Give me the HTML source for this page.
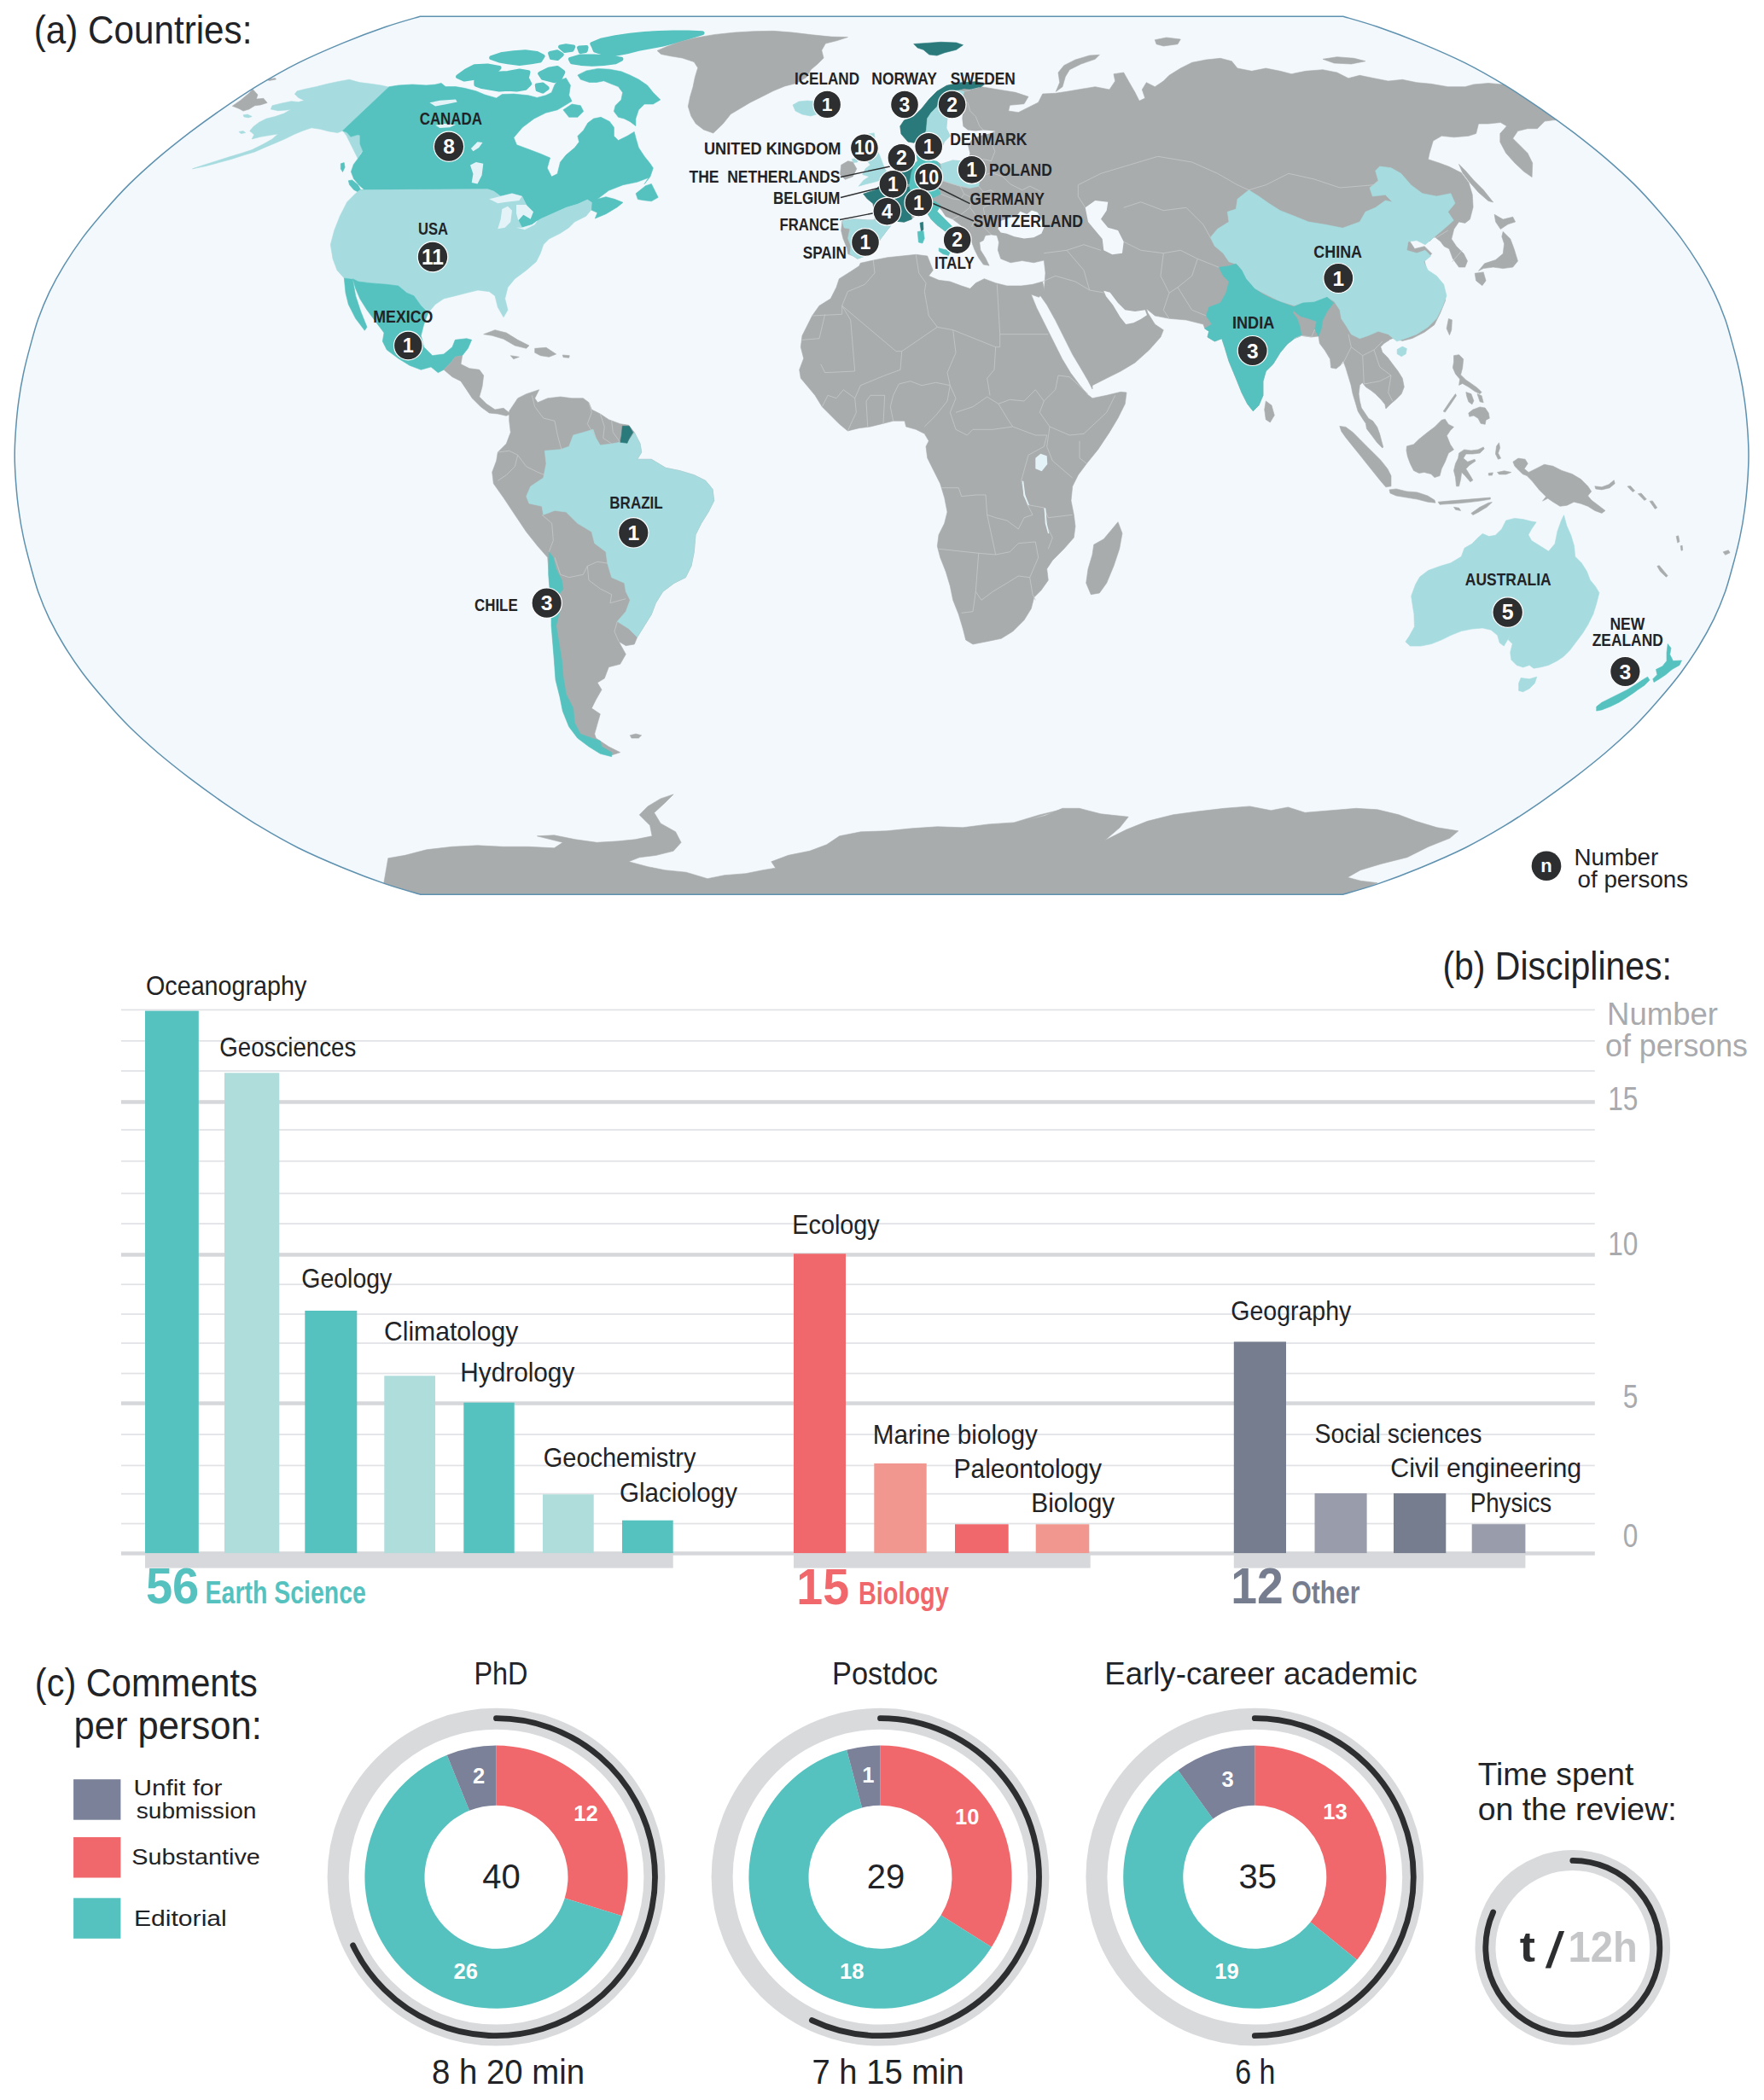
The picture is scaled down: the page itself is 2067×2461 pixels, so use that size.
<!DOCTYPE html><html><head><meta charset="utf-8"><title>Figure</title>
<style>html,body{margin:0;padding:0;background:#fff;overflow:hidden}svg{display:block}text{font-family:"Liberation Sans", sans-serif}</style></head><body>
<svg width="2067" height="2461" viewBox="0 0 2067 2461">
<rect width="2067" height="2461" fill="#fff"/>
<defs><clipPath id="mc"><path d="M1573.8 19.2C1580.5 21.2 1599.3 26.3 1614.4 31.5C1629.5 36.7 1647.2 43.3 1664.3 50.4C1681.4 57.5 1700.5 65.7 1717.0 73.9C1733.5 82.2 1748.5 90.9 1763.1 99.7C1777.8 108.6 1791.3 117.8 1804.9 127.1C1818.4 136.4 1831.6 146.0 1844.4 155.7C1857.1 165.5 1869.6 175.4 1881.4 185.4C1893.1 195.5 1904.4 205.7 1914.8 215.9C1925.2 226.2 1934.5 236.6 1943.5 247.1C1952.6 257.5 1961.5 268.1 1969.4 278.6C1977.2 289.2 1984.3 299.8 1990.8 310.4C1997.3 321.0 2003.2 331.7 2008.4 342.3C2013.5 352.9 2017.8 363.6 2021.6 374.2C2025.3 384.8 2028.0 395.5 2030.9 406.1C2033.8 416.7 2036.6 427.4 2038.8 438.0C2041.1 448.6 2042.9 459.3 2044.3 469.9C2045.8 480.5 2046.8 491.2 2047.6 501.8C2048.4 512.4 2049.0 523.1 2049.0 533.7C2049.0 544.3 2048.4 555.0 2047.6 565.6C2046.8 576.2 2045.8 586.9 2044.3 597.5C2042.9 608.1 2041.1 618.8 2038.8 629.4C2036.6 640.0 2033.8 650.7 2030.9 661.3C2028.0 671.9 2025.3 682.6 2021.6 693.2C2017.8 703.8 2013.5 714.5 2008.4 725.1C2003.2 735.7 1997.3 746.4 1990.8 757.0C1984.3 767.6 1977.2 778.2 1969.4 788.8C1961.5 799.3 1952.6 809.9 1943.5 820.3C1934.5 830.8 1925.2 841.2 1914.8 851.5C1904.4 861.7 1893.1 871.9 1881.4 882.0C1869.6 892.0 1857.1 901.9 1844.4 911.7C1831.6 921.4 1818.4 931.0 1804.9 940.3C1791.3 949.6 1777.8 958.8 1763.1 967.7C1748.5 976.5 1733.5 985.2 1717.0 993.5C1700.5 1001.7 1681.4 1009.9 1664.3 1017.0C1647.2 1024.1 1629.5 1030.7 1614.4 1035.9C1599.3 1041.1 1580.5 1046.2 1573.8 1048.2L492.4 1048.2C485.7 1046.2 466.9 1041.1 451.8 1035.9C436.7 1030.7 419.0 1024.1 401.9 1017.0C384.8 1009.9 365.7 1001.7 349.2 993.5C332.7 985.2 317.7 976.5 303.1 967.7C288.4 958.8 274.9 949.6 261.3 940.3C247.8 931.0 234.6 921.4 221.8 911.7C209.1 901.9 196.6 892.0 184.8 882.0C173.1 871.9 161.8 861.7 151.4 851.5C141.0 841.2 131.7 830.8 122.7 820.3C113.6 809.9 104.7 799.3 96.8 788.8C89.0 778.2 81.9 767.6 75.4 757.0C68.9 746.4 63.0 735.7 57.8 725.1C52.7 714.5 48.4 703.8 44.6 693.2C40.9 682.6 38.2 671.9 35.3 661.3C32.4 650.7 29.6 640.0 27.4 629.4C25.1 618.8 23.3 608.1 21.9 597.5C20.4 586.9 19.4 576.2 18.6 565.6C17.8 555.0 17.2 544.3 17.2 533.7C17.2 523.1 17.8 512.4 18.6 501.8C19.4 491.2 20.4 480.5 21.9 469.9C23.3 459.3 25.1 448.6 27.4 438.0C29.6 427.4 32.4 416.7 35.3 406.1C38.2 395.5 40.9 384.8 44.6 374.2C48.4 363.6 52.7 352.9 57.8 342.3C63.0 331.7 68.9 321.0 75.4 310.4C81.9 299.8 89.0 289.2 96.8 278.6C104.7 268.1 113.6 257.5 122.7 247.1C131.7 236.6 141.0 226.2 151.4 215.9C161.8 205.7 173.1 195.5 184.8 185.4C196.6 175.4 209.1 165.5 221.8 155.7C234.6 146.0 247.8 136.4 261.3 127.1C274.9 117.8 288.4 108.6 303.1 99.7C317.7 90.9 332.7 82.2 349.2 73.9C365.7 65.7 384.8 57.5 401.9 50.4C419.0 43.3 436.7 36.7 451.8 31.5C466.9 26.3 485.7 21.2 492.4 19.2Z"/></clipPath></defs>
<path d="M1573.8 19.2C1580.5 21.2 1599.3 26.3 1614.4 31.5C1629.5 36.7 1647.2 43.3 1664.3 50.4C1681.4 57.5 1700.5 65.7 1717.0 73.9C1733.5 82.2 1748.5 90.9 1763.1 99.7C1777.8 108.6 1791.3 117.8 1804.9 127.1C1818.4 136.4 1831.6 146.0 1844.4 155.7C1857.1 165.5 1869.6 175.4 1881.4 185.4C1893.1 195.5 1904.4 205.7 1914.8 215.9C1925.2 226.2 1934.5 236.6 1943.5 247.1C1952.6 257.5 1961.5 268.1 1969.4 278.6C1977.2 289.2 1984.3 299.8 1990.8 310.4C1997.3 321.0 2003.2 331.7 2008.4 342.3C2013.5 352.9 2017.8 363.6 2021.6 374.2C2025.3 384.8 2028.0 395.5 2030.9 406.1C2033.8 416.7 2036.6 427.4 2038.8 438.0C2041.1 448.6 2042.9 459.3 2044.3 469.9C2045.8 480.5 2046.8 491.2 2047.6 501.8C2048.4 512.4 2049.0 523.1 2049.0 533.7C2049.0 544.3 2048.4 555.0 2047.6 565.6C2046.8 576.2 2045.8 586.9 2044.3 597.5C2042.9 608.1 2041.1 618.8 2038.8 629.4C2036.6 640.0 2033.8 650.7 2030.9 661.3C2028.0 671.9 2025.3 682.6 2021.6 693.2C2017.8 703.8 2013.5 714.5 2008.4 725.1C2003.2 735.7 1997.3 746.4 1990.8 757.0C1984.3 767.6 1977.2 778.2 1969.4 788.8C1961.5 799.3 1952.6 809.9 1943.5 820.3C1934.5 830.8 1925.2 841.2 1914.8 851.5C1904.4 861.7 1893.1 871.9 1881.4 882.0C1869.6 892.0 1857.1 901.9 1844.4 911.7C1831.6 921.4 1818.4 931.0 1804.9 940.3C1791.3 949.6 1777.8 958.8 1763.1 967.7C1748.5 976.5 1733.5 985.2 1717.0 993.5C1700.5 1001.7 1681.4 1009.9 1664.3 1017.0C1647.2 1024.1 1629.5 1030.7 1614.4 1035.9C1599.3 1041.1 1580.5 1046.2 1573.8 1048.2L492.4 1048.2C485.7 1046.2 466.9 1041.1 451.8 1035.9C436.7 1030.7 419.0 1024.1 401.9 1017.0C384.8 1009.9 365.7 1001.7 349.2 993.5C332.7 985.2 317.7 976.5 303.1 967.7C288.4 958.8 274.9 949.6 261.3 940.3C247.8 931.0 234.6 921.4 221.8 911.7C209.1 901.9 196.6 892.0 184.8 882.0C173.1 871.9 161.8 861.7 151.4 851.5C141.0 841.2 131.7 830.8 122.7 820.3C113.6 809.9 104.7 799.3 96.8 788.8C89.0 778.2 81.9 767.6 75.4 757.0C68.9 746.4 63.0 735.7 57.8 725.1C52.7 714.5 48.4 703.8 44.6 693.2C40.9 682.6 38.2 671.9 35.3 661.3C32.4 650.7 29.6 640.0 27.4 629.4C25.1 618.8 23.3 608.1 21.9 597.5C20.4 586.9 19.4 576.2 18.6 565.6C17.8 555.0 17.2 544.3 17.2 533.7C17.2 523.1 17.8 512.4 18.6 501.8C19.4 491.2 20.4 480.5 21.9 469.9C23.3 459.3 25.1 448.6 27.4 438.0C29.6 427.4 32.4 416.7 35.3 406.1C38.2 395.5 40.9 384.8 44.6 374.2C48.4 363.6 52.7 352.9 57.8 342.3C63.0 331.7 68.9 321.0 75.4 310.4C81.9 299.8 89.0 289.2 96.8 278.6C104.7 268.1 113.6 257.5 122.7 247.1C131.7 236.6 141.0 226.2 151.4 215.9C161.8 205.7 173.1 195.5 184.8 185.4C196.6 175.4 209.1 165.5 221.8 155.7C234.6 146.0 247.8 136.4 261.3 127.1C274.9 117.8 288.4 108.6 303.1 99.7C317.7 90.9 332.7 82.2 349.2 73.9C365.7 65.7 384.8 57.5 401.9 50.4C419.0 43.3 436.7 36.7 451.8 31.5C466.9 26.3 485.7 21.2 492.4 19.2Z" fill="#f3f8fc"/>
<g clip-path="url(#mc)" stroke-linejoin="round">
<path d="M457.7 102.5L446.6 100.0L434.7 98.3L421.1 96.6L409.2 93.2L395.6 95.7L383.7 98.3L370.1 101.7L358.2 104.2L348.0 106.8L345.4 110.2L349.7 114.4L356.5 117.8L349.7 119.5L341.2 118.7L329.3 121.2L319.0 123.8L317.3 128.0L325.9 129.7L336.1 128.9L341.2 128.0L332.7 133.1L322.4 136.5L312.2 139.1L303.7 143.3L296.9 148.4L292.7 153.5L297.8 157.8L295.2 162.9L305.4 160.3L315.6 158.6L325.9 156.9L319.0 162.9L308.8 168.8L295.2 175.6L281.6 179.9L268.0 184.1L254.4 188.4L240.8 192.7L225.5 197.8L240.8 194.7L256.1 190.6L271.4 186.4L285.0 182.1L298.6 177.9L312.2 171.9L322.4 167.7L334.4 162.6L344.6 157.4L354.8 153.2L365.0 149.8L375.2 151.3L385.4 153.9L395.6 155.6L401.5 153.2L405.8 158.6L409.2 165.4L412.6 172.2L416.0 179.0L419.4 185.9L422.8 179.0L425.3 177.3L421.9 168.8L421.9 158.6L419.4 157.8L410.9 160.3L406.6 155.2L401.5 153.2Z" fill="#a6dcdf" stroke="#a6dcdf" stroke-width="0.6"/>
<path d="M285.0 134.8L290.1 134.1L295.2 136.5L291.0 137.9L285.9 136.9Z" fill="#a6dcdf" stroke="#a6dcdf" stroke-width="0.6"/>
<path d="M279.9 154.4L285.0 153.5L287.6 155.6L282.5 156.6Z" fill="#a6dcdf" stroke="#a6dcdf" stroke-width="0.6"/>
<path d="M399.3 191.8L403.2 190.6L404.1 196.1L401.5 201.5L399.3 197.8Z" fill="#55c2bf" stroke="#55c2bf" stroke-width="0.6"/>
<path d="M408.3 211.7L412.6 211.0L419.4 216.5L423.1 223.3L421.1 225.8L414.6 222.4L409.5 216.5Z" fill="#55c2bf" stroke="#55c2bf" stroke-width="0.6"/>
<path d="M456.0 101.7L466.7 100.0L483.3 99.0L500.0 100.0L500.0 99.9L510.2 99.1L517.0 97.4L522.1 101.6L534.0 101.6L544.2 103.3L557.8 106.7L568.0 111.0L581.6 114.9L588.4 110.5L602.0 110.1L619.0 111.8L629.3 114.4L639.5 111.8L646.3 108.4L649.7 99.9L653.1 94.8L663.3 91.4L668.4 99.9L666.7 111.8L670.1 118.6L661.6 123.7L653.1 128.8L639.5 132.2L625.9 139.0L612.2 149.3L602.0 161.2L605.4 169.7L619.0 174.8L632.7 179.9L644.6 185.0L641.2 196.9L646.3 207.1L653.1 203.7L656.5 190.1L663.3 181.6L673.5 173.1L678.6 166.3L676.9 159.5L683.7 152.7L688.8 144.1L695.6 139.0L704.1 137.3L714.3 142.4L719.4 149.3L719.4 159.5L724.5 164.6L734.7 159.5L743.2 154.4L744.9 161.2L748.3 173.1L755.1 183.3L761.9 191.8L765.3 196.9L761.9 207.1L755.1 215.6L760.0 208.3L746.7 213.3L730.0 216.7L713.3 223.3L700.0 233.3L710.0 230.7L720.0 233.3L730.0 237.3L723.3 242.7L710.0 250.7L697.3 256.0L700.0 249.3L692.7 246.0L693.3 237.3L688.3 234.0L676.7 239.3L663.3 243.3L648.3 250.0L633.3 256.7L623.3 263.3L611.7 266.7L607.3 258.3L613.3 250.0L616.7 240.0L611.7 230.0L600.0 226.7L586.7 230.0L578.3 224.0L571.7 221.7L421.7 222.7L427.0 222.4L421.1 217.3L414.6 209.7L411.4 201.2L414.3 192.7L419.4 185.9L425.3 177.3L421.9 168.8L421.9 158.6L419.4 157.8L410.9 160.3L406.6 155.2L401.5 153.2Z" fill="#55c2bf" stroke="#55c2bf" stroke-width="0.6"/>
<path d="M745.1 226.8L756.5 217.7L763.3 215.4L767.8 224.5L771.2 231.3L763.3 235.8L754.2 234.7L747.4 233.6Z" fill="#55c2bf" stroke="#55c2bf" stroke-width="0.6"/>
<path d="M536.6 89.7L545.9 82.9L556.1 77.8L571.4 77.0L585.0 79.5L579.9 84.6L568.0 88.0L556.1 91.4L544.2 93.1Z" fill="#55c2bf" stroke="#55c2bf" stroke-width="5.0"/>
<path d="M557.8 94.8L568.0 89.7L581.6 86.3L595.2 85.5L608.8 82.9L619.0 84.6L617.3 91.4L620.7 98.2L615.6 103.3L605.4 105.0L595.2 104.2L585.0 105.0L574.8 103.3L564.6 101.6L557.8 99.1Z" fill="#55c2bf" stroke="#55c2bf" stroke-width="5.0"/>
<path d="M575.7 67.6L588.4 63.4L602.0 61.7L615.6 60.8L629.3 62.5L636.1 65.9L632.7 71.0L622.4 72.7L608.8 74.4L595.2 72.7L585.0 71.0Z" fill="#55c2bf" stroke="#55c2bf" stroke-width="5.0"/>
<path d="M632.7 86.3L642.9 81.2L653.1 79.5L659.9 84.6L656.5 91.4L649.7 94.8L642.9 93.1L636.1 91.4Z" fill="#55c2bf" stroke="#55c2bf" stroke-width="5.0"/>
<path d="M668.4 69.3L680.3 65.9L695.6 65.9L712.6 66.8L727.9 69.3L721.1 72.7L707.5 74.4L693.9 75.3L680.3 74.4L670.1 72.7Z" fill="#55c2bf" stroke="#55c2bf" stroke-width="5.0"/>
<path d="M693.9 51.5L704.1 47.2L721.1 43.8L738.1 41.3L755.1 39.6L772.1 38.4L789.1 37.9L806.1 37.9L823.1 38.7L806.1 43.8L789.1 48.9L775.5 52.3L761.9 54.9L748.3 57.4L734.7 60.8L721.1 63.4L707.5 62.5L697.3 59.1L695.6 54.9Z" fill="#55c2bf" stroke="#55c2bf" stroke-width="5.0"/>
<path d="M656.5 54.9L663.3 53.7L671.8 54.9L670.1 58.3L661.6 59.5Z" fill="#55c2bf" stroke="#55c2bf" stroke-width="5.0"/>
<path d="M678.6 56.1L687.1 55.4L686.2 59.5L680.3 60.5Z" fill="#55c2bf" stroke="#55c2bf" stroke-width="5.0"/>
<path d="M644.6 62.5L653.1 60.8L658.2 64.2L653.1 68.5L646.3 67.6Z" fill="#55c2bf" stroke="#55c2bf" stroke-width="5.0"/>
<path d="M676.9 88.0L687.1 82.9L700.7 80.4L714.3 81.2L727.9 83.8L738.1 88.0L748.3 93.1L758.5 99.9L765.3 108.4L773.8 116.9L765.3 122.0L755.1 122.0L748.3 128.8L744.9 139.0L744.9 147.6L738.1 142.4L731.3 139.0L724.5 137.3L719.4 130.5L721.1 123.7L727.9 116.9L729.6 108.4L724.5 101.6L716.0 98.2L707.5 94.8L699.0 96.5L690.5 96.5L680.3 93.1Z" fill="#55c2bf" stroke="#55c2bf" stroke-width="0.6"/>
<path d="M659.9 128.8L670.1 122.0L680.3 123.7L683.7 130.5L676.9 137.3L666.7 137.3Z" fill="#55c2bf" stroke="#55c2bf" stroke-width="0.6"/>
<path d="M629.3 99.9L636.1 99.1L641.2 103.3L636.1 107.1L630.1 105.0Z" fill="#55c2bf" stroke="#55c2bf" stroke-width="5.0"/>
<path d="M421.7 222.7L571.7 221.7L578.3 224.0L586.7 230.0L600.0 226.7L611.7 230.0L616.7 240.0L613.3 250.0L607.3 258.3L611.7 266.7L623.3 263.3L633.3 256.7L648.3 250.0L663.3 243.3L676.7 239.3L688.3 234.0L693.3 237.3L692.7 246.0L686.7 253.3L673.3 260.0L666.7 266.7L656.7 273.3L643.3 280.0L636.7 286.7L633.3 296.7L628.3 306.7L616.7 316.7L603.3 326.7L595.0 336.7L591.7 350.0L595.0 363.3L590.0 371.7L583.3 360.0L580.0 346.7L573.3 341.7L560.0 340.0L546.7 343.3L533.3 346.7L520.0 350.0L510.0 356.7L501.7 366.7L493.3 358.3L485.0 346.7L476.7 343.3L466.7 335.0L453.3 333.3L433.3 331.7L420.0 330.0L413.3 326.7L403.3 326.0L395.0 316.7L390.0 303.3L387.3 286.7L391.7 270.0L398.3 253.3L406.7 236.7L416.7 226.7Z" fill="#a6dcdf" stroke="#a6dcdf" stroke-width="0.6"/>
<path d="M413.3 326.7L420.0 330.0L433.3 331.7L453.3 333.3L466.7 335.0L476.7 343.3L485.0 346.7L493.3 358.3L501.7 366.7L496.7 380.0L493.3 393.3L496.7 406.7L506.7 416.7L520.0 415.0L530.0 406.7L533.3 398.3L546.7 396.7L552.7 398.3L548.3 408.3L541.7 416.7L533.3 418.3L528.3 425.0L520.0 433.3L513.3 436.7L505.0 430.0L493.3 433.3L480.0 428.3L466.7 420.0L453.3 410.0L448.3 400.0L450.0 390.0L440.0 376.7L430.0 363.3L421.7 350.0L416.7 338.3Z" fill="#55c2bf" stroke="#55c2bf" stroke-width="0.6"/>
<path d="M403.3 326.0L413.3 327.3L416.7 346.7L422.7 365.0L430.0 383.3L427.3 387.3L416.7 373.3L408.3 356.7L405.0 343.3Z" fill="#55c2bf" stroke="#55c2bf" stroke-width="0.6"/>
<path d="M520.0 433.3L528.3 425.0L533.3 418.3L541.7 416.7L540.0 426.7L550.0 431.7L561.7 433.3L566.7 440.0L565.0 453.3L561.7 465.0L570.0 473.3L580.0 480.0L590.0 478.3L598.3 485.0L593.3 487.3L583.3 485.0L573.3 484.0L563.3 476.7L553.3 466.7L546.7 456.7L540.0 446.7L530.0 441.7Z" fill="#a9acad" stroke="#a9acad" stroke-width="0.6"/>
<path d="M566.7 391.7L580.0 386.7L593.3 390.0L606.7 398.3L620.0 405.0L616.7 408.3L603.3 405.0L590.0 397.3L576.7 393.3Z" fill="#a9acad" stroke="#a9acad" stroke-width="0.6"/>
<path d="M626.7 408.3L640.0 407.3L651.7 415.0L643.3 418.3L633.3 416.7L626.7 413.3Z" fill="#a9acad" stroke="#a9acad" stroke-width="0.6"/>
<path d="M598.3 416.7L608.3 418.3L601.7 420.7Z" fill="#a9acad" stroke="#a9acad" stroke-width="0.6"/>
<path d="M659.3 416.0L667.3 416.7L666.7 419.3L660.0 418.7Z" fill="#a9acad" stroke="#a9acad" stroke-width="0.6"/>
<path d="M770.1 59.4L781.4 54.4L797.3 48.8L815.4 44.2L838.1 40.4L860.8 38.1L883.4 36.7L906.1 36.3L928.8 38.1L951.5 40.8L974.1 43.1L993.4 43.5L981.0 47.6L967.3 51.0L962.8 59.0L965.1 68.0L958.3 74.8L950.3 81.6L944.7 90.7L933.3 97.5L919.7 100.9L906.1 106.6L892.5 113.4L878.9 120.2L867.6 127.0L856.2 133.8L847.2 145.1L835.8 156.0L824.5 151.9L815.4 145.1L809.8 136.1L806.3 124.7L808.6 113.4L812.0 102.0L814.3 90.7L817.7 79.4L813.2 72.6L799.5 68.0L785.9 65.8L774.6 63.5Z" fill="#a9acad" stroke="#a9acad" stroke-width="0.6"/>
<path d="M929.0 123.0L936.0 119.0L946.0 118.0L956.0 119.0L964.0 123.0L966.0 128.0L960.0 133.0L950.0 136.0L940.0 134.0L932.0 130.0Z" fill="#a6dcdf" stroke="#a6dcdf" stroke-width="0.6"/>
<path d="M596.7 481.7L606.7 466.7L616.7 461.7L631.7 456.7L626.7 466.7L630.0 471.7L641.7 466.7L656.7 465.0L670.0 466.7L683.3 466.7L690.0 471.7L693.3 480.0L703.3 485.0L713.3 491.7L726.7 496.7L736.7 498.3L743.3 506.7L750.0 520.0L751.7 530.0L746.7 538.3L763.3 538.3L780.0 548.3L796.7 551.7L813.3 556.7L826.7 563.3L835.0 573.3L836.7 586.7L830.0 600.0L821.7 613.3L815.0 626.7L813.3 646.7L810.0 663.3L803.3 676.7L790.0 683.3L776.7 693.3L768.3 706.7L763.3 720.0L755.0 733.3L746.7 746.7L743.3 755.0L733.3 756.7L725.0 751.7L733.3 766.7L726.7 778.3L713.3 781.7L708.3 795.0L700.0 800.0L705.0 808.3L698.3 820.0L693.3 830.0L703.3 836.7L700.0 848.3L696.7 860.0L698.3 865.0L713.3 875.0L726.7 881.7L716.7 885.0L703.3 881.7L690.0 873.3L676.7 863.3L666.7 850.0L660.0 833.3L656.7 816.7L651.7 796.7L650.0 773.3L648.3 753.3L646.7 733.3L646.7 713.3L645.0 693.3L643.3 673.3L641.7 653.3L630.0 640.0L616.7 623.3L603.3 603.3L590.0 583.3L578.3 566.7L576.7 553.3L581.7 540.0L583.3 530.0L593.3 520.0L598.3 506.7L596.7 493.3Z" fill="#a9acad" stroke="#a9acad" stroke-width="0.6"/>
<path d="M671.7 510.0L683.3 506.7L695.0 503.3L698.3 513.3L703.3 521.7L716.7 520.0L726.7 518.3L736.7 516.7L743.3 506.7L750.0 520.0L751.7 530.0L746.7 538.3L763.3 538.3L780.0 548.3L796.7 551.7L813.3 556.7L826.7 563.3L835.0 573.3L836.7 586.7L830.0 600.0L821.7 613.3L815.0 626.7L813.3 646.7L810.0 663.3L803.3 676.7L790.0 683.3L776.7 693.3L768.3 706.7L763.3 720.0L755.0 733.3L746.7 746.7L736.7 736.7L723.3 728.3L733.3 716.7L738.3 703.3L733.3 693.3L731.7 683.3L716.7 676.7L711.7 660.0L710.0 646.7L696.7 636.7L693.3 623.3L676.7 613.3L663.3 600.0L650.0 598.3L636.7 603.3L635.0 593.3L620.0 590.0L616.7 581.7L621.7 570.0L636.7 560.0L640.0 543.3L638.3 528.3L656.7 526.7L666.7 523.3Z" fill="#a6dcdf" stroke="#a6dcdf" stroke-width="0.6"/>
<path d="M729.3 499.3L737.3 499.3L741.7 506.7L736.7 515.0L735.0 519.3L726.7 518.3L728.3 510.0Z" fill="#2a7a7c" stroke="#2a7a7c" stroke-width="0.6"/>
<path d="M643.3 646.7L648.3 653.3L651.7 666.7L658.3 680.0L660.0 690.0L655.0 696.7L656.7 713.3L651.7 733.3L655.0 753.3L658.3 773.3L660.0 793.3L663.3 813.3L671.7 830.0L673.3 846.7L680.0 860.0L693.3 865.0L703.3 868.3L705.0 875.0L716.7 881.7L716.7 886.7L703.3 883.3L690.0 875.0L676.7 865.0L666.7 851.7L659.3 833.3L656.0 816.7L651.0 796.7L649.3 773.3L647.7 753.3L646.0 733.3L646.0 713.3L644.3 693.3L642.7 673.3Z" fill="#55c2bf" stroke="#55c2bf" stroke-width="0.6"/>
<path d="M738.3 861.7L745.0 860.0L751.7 861.7L748.3 865.0L740.0 865.0Z" fill="#a9acad" stroke="#a9acad" stroke-width="0.6"/>
<path d="M1008.3 308.3L1023.3 305.0L1040.0 301.7L1056.7 300.0L1073.3 298.3L1086.7 300.0L1093.3 316.7L1088.3 323.3L1100.0 328.3L1113.3 330.0L1126.7 335.0L1136.7 338.3L1143.3 331.7L1153.3 326.7L1166.7 331.7L1180.0 335.0L1196.7 335.0L1210.0 333.3L1221.7 330.0L1224.0 341.7L1217.3 348.3L1208.3 345.0L1214.7 360.7L1224.7 380.7L1234.7 400.7L1244.7 420.7L1254.7 437.3L1265.0 451.0L1274.3 462.3L1280.0 466.7L1296.7 463.3L1313.3 459.3L1320.0 460.0L1318.3 473.3L1310.0 490.0L1300.0 506.7L1286.7 526.7L1273.3 543.3L1263.3 556.7L1256.7 570.0L1255.0 586.7L1258.3 603.3L1260.0 616.7L1258.3 630.0L1246.7 643.3L1233.3 656.7L1226.7 666.7L1228.3 680.0L1220.0 691.7L1211.7 700.0L1208.3 713.3L1200.0 726.7L1186.7 740.0L1173.3 748.3L1156.7 751.7L1140.0 755.0L1131.7 750.0L1128.3 736.7L1123.3 720.0L1116.7 703.3L1113.3 686.7L1108.3 670.0L1101.7 653.3L1098.3 640.0L1100.0 626.7L1106.7 613.3L1110.0 600.0L1106.7 583.3L1101.7 566.7L1093.3 550.0L1086.7 536.7L1085.0 523.3L1088.3 516.7L1083.3 508.3L1073.3 503.3L1061.7 500.0L1060.0 493.3L1046.7 493.3L1033.3 496.7L1020.0 500.0L1006.7 501.7L993.3 505.0L983.3 496.7L973.3 486.7L963.3 476.7L955.0 463.3L946.7 453.3L938.3 443.3L936.7 433.3L941.7 420.0L938.3 406.7L940.0 393.3L946.7 380.0L951.7 370.0L960.0 358.3L973.3 350.0L980.0 336.7L983.3 326.7L996.7 318.3L1006.7 311.7Z" fill="#a9acad" stroke="#a9acad" stroke-width="0.6"/>
<path d="M1310.0 611.7L1315.0 625.0L1311.7 643.3L1305.0 663.3L1296.7 683.3L1288.3 695.0L1278.3 696.7L1272.7 683.3L1275.0 666.7L1280.0 650.0L1281.7 638.3L1293.3 631.7L1301.7 621.7Z" fill="#a9acad" stroke="#a9acad" stroke-width="0.6"/>
<path d="M1646.9 752.1L1651.2 745.8L1657.4 734.6L1656.9 719.6L1654.9 707.2L1653.7 698.4L1658.7 684.7L1663.7 676.0L1673.6 668.5L1687.3 663.5L1699.8 659.8L1712.3 652.3L1716.0 642.3L1724.8 637.3L1732.2 629.8L1737.2 625.4L1744.7 628.6L1752.2 627.3L1759.7 619.9L1764.7 609.9L1774.7 607.4L1784.6 608.6L1794.6 611.1L1800.1 611.9L1794.6 619.9L1790.9 626.8L1794.6 633.6L1804.6 639.8L1814.6 646.1L1822.0 637.3L1825.0 622.4L1829.5 609.9L1832.5 603.7L1835.8 616.1L1840.8 627.3L1844.5 639.8L1845.7 652.3L1853.2 659.8L1859.5 669.8L1863.2 679.7L1869.4 687.2L1873.9 694.7L1870.7 707.2L1866.9 719.6L1860.7 732.1L1854.5 742.1L1847.0 752.1L1839.5 762.0L1832.0 769.5L1824.5 774.5L1814.6 779.5L1804.6 782.0L1797.1 783.2L1792.1 779.5L1784.6 782.0L1777.1 779.5L1770.9 773.3L1769.7 764.5L1772.2 754.6L1767.2 749.6L1769.7 744.6L1762.2 757.1L1757.2 753.3L1754.7 744.6L1747.2 738.3L1737.2 735.9L1724.8 737.1L1712.3 739.6L1699.8 744.6L1689.8 749.6L1677.4 754.6L1664.9 757.1L1652.4 757.1Z" fill="#a6dcdf" stroke="#a6dcdf" stroke-width="0.6"/>
<path d="M1782.1 794.5L1792.1 795.7L1800.8 793.2L1798.3 800.7L1792.1 806.9L1784.6 810.7L1779.6 809.4L1779.6 800.7Z" fill="#a6dcdf" stroke="#a6dcdf" stroke-width="0.6"/>
<path d="M1954.2 754.6L1958.0 759.6L1956.7 767.0L1960.5 774.5L1970.5 774.0L1968.0 779.5L1959.2 784.5L1951.8 790.7L1944.3 795.7L1938.0 799.5L1936.8 795.7L1941.8 790.7L1940.5 784.5L1948.0 780.8L1953.0 774.5L1953.0 764.5Z" fill="#55c2bf" stroke="#55c2bf" stroke-width="0.6"/>
<path d="M1930.6 793.2L1933.0 797.0L1926.8 803.2L1919.3 808.2L1914.3 811.9L1906.9 816.9L1896.9 823.2L1886.9 828.1L1876.9 831.9L1870.7 833.1L1870.7 828.1L1876.9 823.2L1886.9 818.2L1896.9 813.2L1906.9 808.2L1916.8 802.0L1924.3 797.0Z" fill="#55c2bf" stroke="#55c2bf" stroke-width="0.6"/>
<path d="M449.8 1034.7L454.8 1005.8L474.8 1002.3L499.7 995.8L529.7 992.3L559.6 990.8L589.5 992.3L619.5 992.3L649.4 993.8L659.4 987.3L629.4 979.8L649.4 978.8L674.3 983.8L699.3 987.3L724.2 985.8L744.2 983.8L764.1 979.8L761.6 967.3L749.2 954.9L759.1 944.9L774.1 935.9L789.1 930.9L779.1 940.9L766.6 952.4L774.1 964.9L791.6 974.8L798.1 987.3L789.1 997.3L769.1 1002.3L749.2 1004.8L736.7 1009.8L759.1 1015.7L779.1 1019.7L804.0 1022.2L829.0 1029.7L848.9 1025.7L873.9 1023.7L893.8 1019.7L908.8 1017.2L903.8 1009.8L923.8 1002.3L948.7 997.3L968.7 989.8L983.6 979.8L1008.6 974.8L1038.5 973.8L1068.5 970.8L1098.4 968.8L1128.3 969.8L1158.2 965.9L1188.2 963.9L1218.1 954.9L1243.1 948.9L1180.0 968.8L1200.0 962.3L1224.9 955.8L1244.9 947.3L1264.8 947.3L1289.8 953.8L1322.2 957.3L1312.2 969.8L1294.7 984.8L1319.7 972.3L1344.6 962.3L1374.6 954.8L1404.5 950.8L1434.4 947.3L1464.4 944.9L1489.3 949.8L1509.3 945.9L1529.2 952.3L1559.1 949.8L1589.1 947.3L1614.0 948.8L1639.0 954.8L1658.9 962.3L1683.9 969.8L1708.8 973.8L1698.8 982.3L1673.9 992.2L1648.9 1004.7L1619.0 1012.2L1594.1 1019.7L1579.1 1028.2L1594.1 1032.2L1614.0 1034.7L1599.1 1040.6L1579.1 1049.6L1590.0 1060.0L440.0 1060.0Z" fill="#a9acad" stroke="#a9acad" stroke-width="0.6"/>
<path d="M1004.9 303.2L999.3 299.8L993.6 297.6L992.5 290.8L987.9 279.4L985.7 270.4L986.8 259.0L1000.4 256.8L1016.3 257.9L1025.4 257.9L1024.2 247.7L1023.1 238.6L1016.3 232.9L1011.7 227.3L1025.4 222.7L1032.2 215.9L1043.5 209.1L1052.6 203.5L1058.2 196.7L1066.2 193.3L1070.7 192.1L1075.2 188.7L1074.1 179.7L1076.4 170.6L1082.0 166.1L1080.9 162.7L1070.7 167.2L1063.9 166.1L1056.0 157.0L1054.8 147.9L1059.4 141.1L1070.7 136.6L1079.8 127.5L1088.8 116.2L1097.9 107.1L1109.3 100.3L1125.1 96.9L1143.3 95.8L1154.6 98.0L1150.0 101.7L1170.0 105.0L1190.0 108.3L1205.0 113.3L1200.0 121.7L1183.3 123.3L1181.7 130.0L1193.3 131.7L1203.3 126.7L1216.7 120.0L1221.7 110.0L1236.7 109.3L1250.0 107.3L1263.3 105.0L1283.3 101.7L1300.0 105.0L1306.7 95.0L1305.0 86.7L1316.7 85.0L1323.3 96.7L1330.0 108.3L1335.0 118.3L1341.7 115.0L1338.3 105.0L1343.3 96.7L1353.3 101.7L1363.3 95.0L1370.0 88.3L1383.3 80.0L1396.7 73.3L1413.3 70.0L1430.0 68.3L1443.3 71.7L1450.0 80.0L1466.7 83.3L1483.3 80.0L1500.0 83.3L1513.3 86.7L1530.0 83.3L1550.0 81.7L1566.7 85.0L1580.0 91.7L1593.3 88.3L1610.0 91.7L1626.7 95.0L1643.3 93.3L1660.0 96.7L1676.7 98.3L1696.7 101.7L1716.7 101.7L1726.7 99.0L1744.0 97.5L1761.2 99.0L1769.8 97.5L1798.6 116.2L1827.3 140.7L1820.1 140.7L1810.1 142.1L1801.4 150.7L1790.0 150.7L1778.5 153.6L1772.7 162.2L1781.3 170.8L1790.0 179.5L1795.7 191.0L1795.1 207.6L1785.6 201.0L1775.0 191.0L1764.7 179.5L1757.8 166.5L1757.8 156.5L1765.5 147.8L1758.3 143.5L1744.0 145.0L1732.5 145.0L1729.6 156.5L1721.0 159.3L1703.7 160.8L1689.3 159.3L1679.3 165.1L1675.0 179.5L1673.5 186.7L1686.5 191.0L1698.0 195.3L1712.3 202.5L1721.0 214.0L1725.3 228.3L1726.1 242.7L1722.4 257.1L1716.7 261.4L1709.5 260.0L1703.7 268.6L1700.8 280.1L1706.6 288.7L1715.2 297.3L1719.5 305.9L1716.7 313.1L1709.5 313.1L1702.3 303.1L1698.0 291.6L1692.2 288.7L1687.9 282.9L1680.7 277.2L1675.0 282.9L1669.2 277.2L1660.6 274.3L1652.0 282.9L1657.7 291.6L1669.2 288.7L1677.8 297.3L1669.2 305.9L1672.1 317.4L1683.6 328.9L1692.2 340.4L1693.7 351.9L1687.9 366.3L1680.7 380.7L1669.2 389.3L1654.9 396.5L1643.4 399.4L1631.9 396.5L1621.8 400.8L1628.0 398.4L1621.8 402.4L1617.8 406.5L1619.8 412.7L1625.9 418.8L1632.0 426.9L1638.2 435.1L1643.3 443.3L1645.3 453.5L1642.2 461.6L1636.1 467.8L1630.0 472.9L1623.9 479.0L1622.9 473.9L1617.8 467.8L1611.6 461.6L1606.5 457.6L1600.4 453.5L1596.3 448.4L1593.3 451.4L1592.2 461.6L1593.3 469.8L1595.3 478.0L1599.4 484.1L1603.5 490.2L1608.6 493.3L1613.7 500.4L1616.7 508.6L1618.8 516.7L1620.8 523.9L1619.8 524.9L1613.7 518.8L1607.6 510.6L1601.4 502.4L1600.4 496.3L1596.3 490.2L1591.2 482.0L1588.2 471.8L1585.1 461.6L1583.1 451.4L1580.0 441.2L1576.9 431.0L1573.9 422.9L1570.8 428.0L1565.7 432.0L1559.6 431.0L1558.6 420.8L1552.4 410.6L1546.3 402.4L1545.0 394.0L1536.7 395.0L1525.0 393.3L1516.7 396.7L1508.3 403.3L1500.0 413.3L1491.7 426.7L1483.3 435.0L1480.0 446.7L1480.0 463.3L1475.0 475.0L1468.3 481.7L1461.7 473.3L1455.0 460.0L1448.3 443.3L1440.0 423.3L1435.0 406.7L1431.7 396.7L1423.3 400.0L1415.0 395.0L1416.7 388.3L1411.7 385.0L1410.0 380.0L1390.0 375.0L1370.0 373.3L1353.3 370.0L1343.3 361.7L1345.0 366.7L1353.3 380.0L1363.3 386.7L1360.0 395.0L1346.7 410.0L1330.0 425.0L1313.3 435.0L1296.7 443.3L1280.0 451.7L1280.0 456.0L1274.7 445.7L1266.7 432.0L1256.7 415.3L1246.7 395.3L1236.7 375.3L1226.7 357.3L1217.3 344.0L1223.3 341.7L1225.0 320.0L1223.3 305.0L1223.1 305.1L1211.3 307.8L1197.7 305.5L1184.1 307.8L1172.7 303.2L1169.3 293.0L1170.5 284.0L1168.2 276.0L1161.4 274.9L1154.6 276.0L1152.3 281.7L1147.8 284.0L1148.9 293.0L1154.6 302.1L1159.1 311.2L1152.3 310.0L1146.7 302.1L1142.1 293.0L1138.7 284.0L1136.5 277.2L1131.9 270.4L1125.1 263.6L1116.1 256.8L1108.1 253.4L1103.6 246.6L1100.2 243.2L1097.9 247.7L1107.0 256.8L1118.3 268.1L1129.7 279.4L1136.5 284.0L1130.8 287.4L1130.8 290.8L1127.4 296.4L1125.1 290.8L1121.7 285.1L1116.1 279.4L1107.0 270.4L1097.9 263.6L1091.1 256.8L1086.6 250.0L1079.8 247.7L1070.7 254.5L1068.4 256.8L1059.4 260.2L1048.0 259.0L1039.0 270.4L1032.2 279.4L1025.4 290.8L1014.0 299.8Z" fill="#a9acad" stroke="#a9acad" stroke-width="0.6"/>
<path d="M272.3 124.3L281.6 117.8L291.8 109.3L296.1 104.6L302.0 111.0L300.3 116.1L308.8 115.3L313.1 120.4L305.4 122.9L298.6 123.8L291.8 128.0L285.0 130.1L279.9 127.2Z" fill="#a9acad" stroke="#a9acad" stroke-width="0.6"/>
<path d="M312.2 93.3L322.4 91.6L323.5 93.0L315.6 94.4Z" fill="#a9acad" stroke="#a9acad" stroke-width="0.6"/>
<path d="M1288.3 64.3L1276.7 65.0L1260.0 70.0L1246.7 76.7L1240.0 85.0L1241.7 96.7L1237.3 107.3L1245.0 101.7L1248.3 90.0L1253.3 81.7L1266.7 75.0L1283.3 69.3Z" fill="#a9acad" stroke="#a9acad" stroke-width="0.6"/>
<path d="M1353.3 46.7L1366.7 44.0L1383.3 46.0L1380.0 51.7L1363.3 54.0L1355.0 51.7Z" fill="#a9acad" stroke="#a9acad" stroke-width="0.6"/>
<path d="M1550.0 69.3L1566.7 66.7L1586.7 68.3L1600.0 71.7L1583.3 75.0L1563.3 74.0Z" fill="#a9acad" stroke="#a9acad" stroke-width="0.6"/>
<path d="M1070.7 51.5L1086.6 50.4L1102.4 49.3L1120.6 50.0L1128.5 52.7L1120.6 58.3L1107.0 61.7L1097.9 65.1L1088.8 64.0L1082.0 58.3L1075.2 56.1Z" fill="#2a7a7c" stroke="#2a7a7c" stroke-width="0.6"/>
<path d="M1017.4 157.0L1024.2 155.9L1025.4 163.8L1022.0 170.6L1028.8 177.4L1033.3 188.7L1036.7 197.8L1040.1 202.3L1037.8 209.1L1031.0 211.4L1023.1 213.7L1014.0 215.9L1006.1 218.2L1011.7 211.4L1018.5 206.9L1010.6 204.6L1014.0 197.8L1019.7 193.3L1016.3 188.7L1019.7 181.9L1014.0 177.4L1011.7 168.3L1014.0 161.5Z" fill="#a6dcdf" stroke="#a6dcdf" stroke-width="0.6"/>
<path d="M985.7 193.3L993.6 188.7L999.3 189.9L1003.8 197.8L999.3 206.9L990.2 210.3L984.5 204.6Z" fill="#a9acad" stroke="#a9acad" stroke-width="0.6"/>
<path d="M998.1 186.5L1003.8 185.3L1004.9 189.9L1000.0 190.5Z" fill="#a6dcdf" stroke="#a6dcdf" stroke-width="0.6"/>
<path d="M1709.5 192.4L1716.7 199.6L1726.7 211.1L1738.2 222.6L1749.7 237.0L1744.0 235.5L1732.5 225.5L1722.4 214.0L1713.8 202.5Z" fill="#a9acad" stroke="#a9acad" stroke-width="0.6"/>
<path d="M1751.1 251.3L1761.2 257.1L1772.7 254.2L1775.6 260.0L1767.0 262.8L1758.3 268.6L1752.6 260.0Z" fill="#a9acad" stroke="#a9acad" stroke-width="0.6"/>
<path d="M1761.2 271.4L1769.8 280.1L1774.1 291.6L1778.5 305.9L1772.7 313.1L1761.2 314.6L1749.7 313.1L1738.2 314.6L1732.5 317.4L1739.6 308.8L1752.6 304.5L1761.2 297.3L1762.6 285.8L1759.8 277.2Z" fill="#a9acad" stroke="#a9acad" stroke-width="0.6"/>
<path d="M1728.2 320.3L1738.2 318.9L1741.1 328.9L1736.8 334.7L1729.6 328.9Z" fill="#a9acad" stroke="#a9acad" stroke-width="0.6"/>
<path d="M1697.4 373.5L1701.4 374.9L1700.8 386.4L1698.5 392.7L1695.1 385.0Z" fill="#a9acad" stroke="#a9acad" stroke-width="0.6"/>
<path d="M1637.1 409.6L1643.3 406.1L1648.4 408.6L1647.3 414.7L1642.2 417.8L1637.1 414.7Z" fill="#a6dcdf" stroke="#a6dcdf" stroke-width="0.6"/>
<path d="M1483.3 470.0L1490.0 475.0L1493.3 486.7L1488.3 495.0L1483.3 491.7L1481.7 480.0Z" fill="#a9acad" stroke="#a9acad" stroke-width="0.6"/>
<path d="M1569.8 499.4L1576.9 500.4L1585.1 506.5L1593.3 514.7L1601.4 522.9L1609.6 531.0L1617.8 539.2L1625.9 549.4L1630.0 557.6L1630.0 569.8L1623.9 570.8L1617.8 563.7L1609.6 553.5L1601.4 543.3L1593.3 533.1L1585.1 522.9L1576.9 512.7L1571.8 505.5Z" fill="#a9acad" stroke="#a9acad" stroke-width="0.6"/>
<path d="M1628.0 573.9L1636.1 572.9L1648.4 575.9L1660.6 576.9L1672.9 581.0L1681.0 586.1L1682.0 589.2L1672.9 588.2L1660.6 585.1L1648.4 583.1L1636.1 581.0L1629.0 578.0Z" fill="#a9acad" stroke="#a9acad" stroke-width="0.6"/>
<path d="M1685.1 588.2L1697.3 587.1L1709.6 586.1L1721.8 585.1L1734.1 584.1L1746.3 583.1L1746.3 585.1L1734.1 587.1L1721.8 588.6L1709.6 589.8L1697.3 590.6L1687.1 591.2Z" fill="#a9acad" stroke="#a9acad" stroke-width="0.6"/>
<path d="M1703.5 594.3L1709.6 595.3L1711.6 598.4L1705.5 597.3Z" fill="#a9acad" stroke="#a9acad" stroke-width="0.6"/>
<path d="M1723.9 601.4L1734.1 594.3L1744.3 589.2L1748.4 588.6L1742.2 594.3L1732.0 600.4L1725.9 603.5Z" fill="#a9acad" stroke="#a9acad" stroke-width="0.6"/>
<path d="M1648.4 522.9L1656.5 520.8L1662.7 514.7L1672.9 506.5L1681.0 500.4L1689.2 492.2L1693.3 491.2L1697.3 497.3L1703.5 500.4L1699.4 504.5L1695.3 510.6L1699.4 520.8L1703.5 526.9L1697.3 531.0L1693.3 541.2L1689.2 549.4L1687.1 557.6L1681.0 559.6L1676.9 555.5L1668.8 553.5L1662.7 554.5L1656.5 551.4L1652.4 543.3L1649.4 535.1L1648.0 528.0Z" fill="#a9acad" stroke="#a9acad" stroke-width="0.6"/>
<path d="M1709.6 531.0L1715.7 526.9L1723.9 528.0L1732.0 526.9L1738.2 523.9L1739.2 525.9L1734.1 531.0L1725.9 532.0L1717.8 532.0L1714.7 537.1L1719.8 541.2L1728.0 538.2L1729.0 540.2L1721.8 545.3L1717.8 549.4L1722.9 557.6L1725.9 562.7L1722.9 564.7L1716.7 557.6L1712.7 553.5L1711.6 561.6L1709.6 569.8L1706.5 569.8L1705.5 559.6L1703.5 551.4L1705.5 543.3L1708.6 537.1Z" fill="#a9acad" stroke="#a9acad" stroke-width="0.6"/>
<path d="M1753.5 522.9L1756.5 518.8L1757.6 524.9L1755.5 531.0L1758.6 537.1L1755.5 538.2L1752.4 532.0Z" fill="#a9acad" stroke="#a9acad" stroke-width="0.6"/>
<path d="M1703.5 416.7L1709.6 415.7L1714.7 420.8L1713.7 431.0L1711.6 439.2L1717.8 445.3L1723.9 449.4L1731.0 454.5L1736.1 459.6L1734.1 461.6L1728.0 458.6L1720.8 453.5L1713.7 449.4L1709.6 451.4L1710.6 444.3L1705.5 438.2L1702.4 431.0L1703.5 423.9Z" fill="#a9acad" stroke="#a9acad" stroke-width="0.6"/>
<path d="M1717.8 459.6L1723.9 461.6L1726.9 469.8L1724.9 473.9L1720.8 470.8L1718.8 464.7Z" fill="#a9acad" stroke="#a9acad" stroke-width="0.6"/>
<path d="M1731.0 461.6L1736.1 463.7L1738.2 471.8L1734.1 470.8Z" fill="#a9acad" stroke="#a9acad" stroke-width="0.6"/>
<path d="M1720.8 484.1L1725.9 480.0L1734.1 476.9L1740.2 478.0L1744.3 484.1L1745.3 490.2L1741.2 492.2L1740.2 497.3L1735.1 496.3L1732.0 490.2L1726.9 487.1L1721.8 488.2Z" fill="#a9acad" stroke="#a9acad" stroke-width="0.6"/>
<path d="M1691.2 482.0L1699.4 469.8L1705.5 461.6L1706.5 463.7L1700.4 472.9L1693.3 483.1Z" fill="#a9acad" stroke="#a9acad" stroke-width="0.6"/>
<path d="M1772.9 541.2L1779.0 537.1L1787.1 538.2L1790.2 543.3L1786.1 549.4L1791.2 553.5L1799.4 549.4L1809.6 544.3L1819.8 546.3L1830.0 551.4L1842.2 555.5L1852.4 561.6L1860.6 569.8L1864.7 575.9L1860.6 581.0L1864.7 586.1L1872.9 592.2L1881.0 598.4L1876.9 601.4L1868.8 598.4L1860.6 593.3L1852.4 590.2L1844.3 588.2L1836.1 592.2L1828.0 593.3L1819.8 588.2L1813.7 584.1L1807.6 587.1L1811.6 582.0L1803.5 573.9L1795.3 563.7L1789.2 557.6L1784.1 555.5L1779.0 550.4L1774.9 546.3Z" fill="#a9acad" stroke="#a9acad" stroke-width="0.6"/>
<path d="M1868.8 569.8L1876.9 570.8L1885.1 567.8L1891.2 562.7L1892.2 566.7L1886.1 571.8L1876.9 573.9L1869.8 572.9Z" fill="#a9acad" stroke="#a9acad" stroke-width="0.6"/>
<path d="M1744.3 554.5L1749.4 553.9L1748.4 557.1L1744.3 557.1Z" fill="#a9acad" stroke="#a9acad" stroke-width="0.6"/>
<path d="M1754.5 553.5L1762.7 551.8L1770.8 553.5L1764.7 555.9L1756.5 555.9Z" fill="#a9acad" stroke="#a9acad" stroke-width="0.6"/>
<path d="M1418.3 278.3L1426.7 268.3L1440.0 260.0L1438.3 248.3L1448.3 245.0L1450.0 233.3L1463.3 222.7L1475.0 230.0L1486.7 238.3L1500.0 246.7L1516.7 253.3L1533.3 260.0L1553.3 263.3L1573.3 267.3L1593.3 260.0L1600.0 248.3L1611.7 243.3L1623.3 235.0L1631.7 236.7L1623.3 228.3L1608.3 230.0L1605.0 220.0L1615.0 211.7L1611.7 200.0L1616.7 195.0L1630.0 196.7L1641.7 203.3L1653.3 216.7L1666.7 226.7L1683.3 230.0L1700.0 226.7L1705.0 238.3L1696.7 248.3L1703.3 258.3L1690.0 270.0L1680.0 278.3L1670.0 286.7L1660.0 281.7L1650.0 283.3L1648.3 293.3L1660.0 296.7L1670.0 293.3L1676.7 300.0L1668.3 306.7L1673.3 316.7L1683.3 323.3L1691.7 333.3L1695.0 346.7L1690.0 360.0L1683.3 373.3L1673.3 383.3L1660.0 391.7L1646.7 396.7L1636.7 400.0L1626.7 391.7L1615.0 388.3L1603.3 393.3L1593.3 396.7L1583.3 391.7L1578.3 383.3L1571.7 373.3L1570.0 363.3L1563.3 353.3L1555.0 348.3L1540.0 355.0L1526.7 355.0L1516.7 358.3L1500.0 353.3L1483.3 345.0L1470.0 338.3L1460.0 326.7L1455.0 316.7L1450.0 310.0L1440.0 306.7L1433.3 296.7L1423.3 288.3Z" fill="#a6dcdf" stroke="#a6dcdf" stroke-width="0.6"/>
<path d="M1428.3 313.3L1440.0 311.7L1448.3 309.3L1455.0 316.7L1460.0 326.7L1470.0 338.3L1480.0 345.0L1490.0 350.0L1503.3 355.0L1516.7 360.0L1515.0 366.7L1520.0 373.3L1523.3 383.3L1525.0 393.3L1516.7 396.7L1508.3 403.3L1500.0 413.3L1491.7 426.7L1483.3 435.0L1480.0 446.7L1480.0 463.3L1475.0 475.0L1468.3 481.7L1461.7 473.3L1455.0 460.0L1448.3 443.3L1440.0 423.3L1435.0 406.7L1431.7 396.7L1423.3 400.0L1415.0 395.0L1416.7 388.3L1411.7 385.0L1420.0 380.0L1413.3 370.0L1416.7 360.0L1430.0 355.0L1436.7 343.3L1440.0 330.0L1433.3 323.3Z" fill="#55c2bf" stroke="#55c2bf" stroke-width="0.6"/>
<path d="M1515.0 360.0L1526.7 355.0L1540.0 354.0L1555.0 348.3L1562.7 355.0L1555.0 365.0L1550.0 375.0L1548.3 385.0L1545.0 394.0L1540.7 386.0L1542.7 376.7L1533.3 373.3L1524.0 370.7L1516.7 365.0Z" fill="#55c2bf" stroke="#55c2bf" stroke-width="0.6"/>
<path d="M1063.9 166.1L1056.0 157.0L1054.8 147.9L1059.4 141.1L1070.7 136.6L1079.8 127.5L1088.8 116.2L1097.9 107.1L1109.3 100.3L1125.1 96.9L1143.3 95.8L1154.6 98.0L1147.8 102.6L1138.7 104.8L1129.7 103.7L1120.6 106.0L1109.3 109.4L1102.4 116.2L1097.9 125.2L1091.1 132.0L1086.6 138.8L1085.4 152.4L1079.8 161.5L1070.7 167.2Z" fill="#2a7a7c" stroke="#2a7a7c" stroke-width="0.6"/>
<path d="M1086.6 138.8L1091.1 132.0L1097.9 125.2L1102.4 116.2L1109.3 109.4L1120.6 106.0L1129.7 107.1L1127.4 116.2L1116.1 127.5L1110.4 138.8L1109.3 150.2L1113.8 159.3L1107.0 166.1L1102.4 177.4L1093.4 180.8L1086.6 175.1L1082.0 166.1L1085.4 152.4Z" fill="#a6dcdf" stroke="#a6dcdf" stroke-width="0.6"/>
<path d="M1075.2 188.7L1074.1 179.7L1076.4 170.6L1082.0 166.1L1086.6 170.6L1086.6 179.7L1085.4 186.5Z" fill="#55c2bf" stroke="#55c2bf" stroke-width="0.6"/>
<path d="M1075.2 188.7L1086.6 186.5L1097.9 188.7L1102.4 197.8L1103.6 211.4L1097.9 218.2L1102.4 227.3L1093.4 231.8L1077.5 229.5L1067.3 227.3L1065.0 215.9L1067.3 202.3L1070.7 193.3Z" fill="#55c2bf" stroke="#55c2bf" stroke-width="0.6"/>
<path d="M1102.4 192.1L1116.1 187.6L1134.2 188.7L1145.5 193.3L1148.9 206.9L1146.7 218.2L1136.5 220.5L1125.1 218.2L1113.8 214.8L1104.7 211.4L1103.6 200.1Z" fill="#a6dcdf" stroke="#a6dcdf" stroke-width="0.6"/>
<path d="M1011.7 227.3L1025.4 222.7L1032.2 215.9L1043.5 209.1L1054.8 211.4L1065.0 218.2L1067.3 227.3L1063.9 234.1L1066.2 245.4L1068.4 256.8L1059.4 260.2L1048.0 259.0L1039.0 260.2L1028.8 257.9L1025.4 257.9L1024.2 247.7L1023.1 238.6L1016.3 232.9Z" fill="#2a7a7c" stroke="#2a7a7c" stroke-width="0.6"/>
<path d="M1043.5 209.1L1052.6 203.5L1058.2 196.7L1066.2 193.3L1070.7 193.3L1067.3 202.3L1065.0 215.9L1054.8 211.4Z" fill="#2a7a7c" stroke="#2a7a7c" stroke-width="0.6"/>
<path d="M1067.3 229.5L1077.5 229.5L1085.4 232.9L1082.0 239.8L1073.0 239.8L1067.3 235.2Z" fill="#55c2bf" stroke="#55c2bf" stroke-width="0.6"/>
<path d="M986.8 259.0L1000.4 256.8L1016.3 257.9L1028.8 257.9L1039.0 260.2L1048.0 259.0L1039.0 270.4L1032.2 279.4L1025.4 290.8L1014.0 299.8L1004.9 303.2L999.3 299.8L995.9 297.6L997.0 288.5L993.6 279.4L995.9 268.1L989.1 267.0Z" fill="#a6dcdf" stroke="#a6dcdf" stroke-width="0.6"/>
<path d="M1077.5 240.9L1086.6 234.1L1095.6 236.3L1102.4 240.9L1097.9 247.7L1107.0 256.8L1118.3 268.1L1129.7 279.4L1136.5 284.0L1130.8 287.4L1130.8 290.8L1127.4 296.4L1125.1 290.8L1121.7 285.1L1116.1 279.4L1107.0 270.4L1097.9 263.6L1091.1 256.8L1086.6 250.0L1079.8 247.7Z" fill="#55c2bf" stroke="#55c2bf" stroke-width="0.6"/>
<path d="M1100.2 290.8L1107.0 292.6L1113.8 293.5L1111.5 299.4L1104.7 297.6L1100.2 294.2Z" fill="#55c2bf" stroke="#55c2bf" stroke-width="0.6"/>
<path d="M1075.2 271.5L1082.0 270.4L1083.2 279.4L1080.9 285.1L1076.4 284.0Z" fill="#55c2bf" stroke="#55c2bf" stroke-width="0.6"/>
<path d="M1078.0 261.3L1081.6 260.2L1082.0 269.2L1079.3 270.8Z" fill="#2a7a7c" stroke="#2a7a7c" stroke-width="0.6"/>
<path d="M1941.8 663.5L1944.3 662.8L1954.2 674.7L1952.3 676.2L1945.5 669.8Z" fill="#a9acad" stroke="#a9acad" stroke-width="0.6"/>
<path d="M2019.1 646.8L2025.3 644.8L2027.1 647.8L2021.6 650.3Z" fill="#a9acad" stroke="#a9acad" stroke-width="0.6"/>
<path d="M1964.2 628.6L1966.7 627.8L1968.0 634.8L1965.7 636.1Z" fill="#a9acad" stroke="#a9acad" stroke-width="0.6"/>
<path d="M1969.2 639.8L1971.2 639.3L1971.7 644.8L1970.0 645.3Z" fill="#a9acad" stroke="#a9acad" stroke-width="0.6"/>
<path d="M1906.9 570.0L1910.6 569.5L1915.6 575.0L1913.1 576.5Z" fill="#a9acad" stroke="#a9acad" stroke-width="0.6"/>
<path d="M1919.3 578.7L1923.1 578.0L1929.3 584.9L1926.8 586.4Z" fill="#a9acad" stroke="#a9acad" stroke-width="0.6"/>
<path d="M1933.0 587.4L1936.3 586.9L1941.8 594.9L1939.3 596.4Z" fill="#a9acad" stroke="#a9acad" stroke-width="0.6"/>
<path d="M623.3 463.3L626.7 476.7L636.7 490.0L650.0 493.3L653.3 510.0L658.3 528.3M690.0 471.7L693.3 483.3L688.3 496.7L698.3 513.3M703.3 485.0L708.3 500.0L706.7 513.3L716.7 520.0M716.7 493.3L718.3 506.7L726.7 518.3M583.3 530.0L596.7 528.3L606.7 533.3L603.3 546.7L593.3 556.7L583.3 563.3M606.7 533.3L616.7 546.7L630.0 553.3L638.3 556.7M635.0 603.3L646.7 613.3L648.3 633.3L643.3 646.7M650.0 653.3L656.7 673.3L666.7 676.7L683.3 673.3L688.3 663.3L700.0 658.3L711.7 660.0M688.3 663.3L690.0 680.0L703.3 690.0L716.7 696.7L715.0 706.7L733.3 701.7M723.3 728.3L720.0 740.0L725.0 751.7M1023.3 305.0L1025.0 320.0L1013.3 333.3L993.3 341.7L986.7 358.3M951.7 370.0L986.7 368.3L986.7 358.3M940.0 398.3L960.0 396.7L966.7 368.3M986.7 358.3L996.7 375.0L1001.7 435.0L966.7 436.7L961.7 426.7M986.7 358.3L1050.0 411.7L1056.7 411.7L1098.3 383.3M1073.3 298.3L1076.7 320.0L1085.0 331.7L1083.3 341.7L1088.3 370.0L1098.3 383.3L1116.7 386.7L1166.7 406.7L1171.7 406.7L1171.7 391.7L1228.3 391.7M1168.3 333.3L1171.7 391.7M1116.7 386.7L1120.0 413.3L1110.0 436.7L1113.3 451.7M1166.7 406.7L1165.0 433.3L1156.7 443.3L1160.0 463.3M1056.7 411.7L1055.0 433.3L1036.7 440.0L1008.3 451.7L1001.7 466.7M1046.7 463.3L1053.3 450.0L1066.7 446.7L1080.0 451.7L1096.7 448.3L1113.3 451.7L1110.0 470.0L1096.7 486.7L1083.3 500.0M1113.3 451.7L1120.0 466.7L1113.3 483.3L1120.0 503.3L1133.3 510.0M1120.0 483.3L1140.0 476.7L1156.7 465.0L1170.0 473.3L1180.0 490.0L1186.7 500.0M1170.0 473.3L1183.3 468.3L1200.0 470.0L1213.3 456.7L1223.3 470.0L1218.3 483.3L1230.0 500.0M1223.3 470.0L1236.7 456.7L1240.0 440.0L1253.3 441.7L1275.0 461.7M1230.0 500.0L1253.3 510.0L1270.0 508.3L1296.7 483.3L1306.7 463.3M1230.0 500.0L1226.7 523.3L1233.3 540.0L1256.7 560.0M1265.0 516.7L1265.0 536.7L1273.3 543.3M1133.3 510.0L1140.0 503.3L1163.3 503.3L1186.7 500.0L1213.3 510.0L1226.7 510.0L1223.3 523.3L1205.0 533.3L1196.7 563.3L1203.3 590.0L1210.0 603.3L1200.0 606.7L1193.3 620.0L1180.0 610.0L1166.7 606.7L1156.7 603.3L1155.0 580.0L1143.3 580.0L1126.7 581.7L1123.3 571.7L1103.3 571.7M1100.0 643.3L1146.7 648.3L1166.7 650.0L1156.7 603.3M1146.7 648.3L1143.3 693.3L1140.0 716.7L1126.7 718.3M1143.3 693.3L1150.0 703.3L1163.3 693.3L1180.0 683.3L1193.3 675.0L1206.7 676.7M1166.7 650.0L1183.3 646.7L1193.3 636.7L1213.3 635.0L1216.7 653.3L1206.7 676.7L1210.0 696.7L1213.3 703.3M1205.0 591.7L1223.3 595.0L1228.3 606.7L1256.7 603.3M1223.3 595.0L1226.7 616.7L1233.3 630.0L1228.3 643.3M963.3 476.7L970.0 463.3L980.0 466.7L988.3 456.7L1001.7 466.7L1003.3 483.3L993.3 505.0M1016.7 500.0L1015.0 470.0L1020.0 463.3L1036.7 463.3L1035.0 496.7M1046.7 463.3L1043.3 476.7L1046.7 493.3M1263.3 216.7L1290.0 203.3L1323.3 193.3L1356.7 183.3L1396.7 190.0L1426.7 203.3L1450.0 216.7L1463.3 222.7L1483.3 216.7L1510.0 203.3L1540.0 210.0L1570.0 220.0L1610.0 216.7L1615.0 211.7M1271.7 243.3L1263.3 230.0L1263.3 216.7M1316.7 243.3L1336.7 236.7L1363.3 246.7L1390.0 243.3L1410.0 263.3L1418.3 278.3M1316.7 283.3L1336.7 293.3L1363.3 296.7L1383.3 293.3L1403.3 303.3L1428.3 313.3M1363.3 296.7L1360.0 323.3L1370.0 343.3L1363.3 363.3L1370.0 373.3M1403.3 303.3L1396.7 323.3L1380.0 336.7L1370.0 343.3M1413.3 370.0L1396.7 363.3L1380.0 336.7M1221.7 330.0L1236.7 323.3L1260.0 330.0L1276.7 340.0L1295.0 343.3M1223.3 296.7L1250.0 293.3L1270.0 286.7L1290.0 293.3M1276.7 340.0L1270.0 316.7L1250.0 293.3M1516.7 396.7L1525.0 393.3L1536.7 395.0L1540.7 386.0M1573.3 426.7L1583.3 406.7L1580.0 391.7M1583.3 406.7L1596.7 416.7L1598.3 450.0M1596.7 416.7L1610.0 410.0L1620.0 400.0M1610.0 410.0L1616.7 430.0L1630.0 440.0L1626.7 460.0L1631.7 470.0M1598.3 450.0L1616.7 446.7L1630.0 440.0M1696.7 270.0L1683.3 278.3L1680.0 278.3M1701.7 306.7L1713.3 293.3M1054.8 211.4L1057.1 218.2L1065.0 218.2M1103.6 211.4L1113.8 214.8L1125.1 218.2L1136.5 220.5M1146.7 218.2L1152.3 225.0L1161.4 222.7L1168.2 229.5L1175.0 227.3M1148.9 206.9L1161.4 202.3L1175.0 206.9L1184.1 215.9L1197.7 222.7L1206.8 218.2L1220.4 225.0M1145.5 193.3L1152.3 186.5L1161.4 188.7L1165.9 177.4L1161.4 166.1L1165.9 153.6M1125.1 218.2L1129.7 227.3L1125.1 234.1L1116.1 232.9L1102.4 227.3M1129.7 227.3L1138.7 231.8L1147.8 229.5L1152.3 225.0M1138.7 231.8L1136.5 243.2L1143.3 252.2L1138.7 265.8M1116.1 256.8L1125.1 252.2L1136.5 243.2M1152.3 243.2L1161.4 238.6L1168.2 229.5M1152.3 243.2L1154.6 256.8L1152.3 265.8L1161.4 274.9M1127.4 116.2L1134.2 120.7L1136.5 129.8L1143.3 136.6L1147.8 147.9L1152.3 152.4M1129.7 107.1L1138.7 104.8L1147.8 102.6" fill="none" stroke="#c6c9ca" stroke-width="0.8"/>
<path d="M1116.1 129.8L1125.1 125.2L1128.5 129.8L1127.4 138.8L1128.5 147.9L1134.2 152.4L1143.3 153.6L1152.3 152.4L1165.9 153.6L1161.4 155.9L1147.8 159.3L1138.7 163.8L1134.2 170.6L1136.5 179.7L1134.2 188.7L1116.1 187.6L1102.4 192.1L1097.9 188.7L1086.6 186.5L1088.8 179.7L1093.4 180.8L1102.4 177.4L1107.0 166.1L1113.8 159.3L1109.3 150.2L1110.4 138.8Z" fill="#f3f8fc"/>
<path d="M1169.3 268.1L1172.7 259.0L1181.8 255.6L1190.9 253.4L1195.4 247.7L1203.4 251.1L1209.0 246.6L1215.8 248.8L1220.4 256.8L1223.8 265.8L1220.4 273.8L1211.3 278.3L1200.0 279.4L1188.6 277.2L1179.5 273.8L1172.7 272.6Z" fill="#f3f8fc"/>
<path d="M1271.7 243.3L1283.3 235.0L1298.3 236.7L1296.7 246.7L1290.0 256.7L1298.3 266.7L1310.0 270.0L1316.7 283.3L1315.0 296.7L1303.3 298.3L1293.3 293.3L1291.7 280.0L1283.3 270.0L1275.0 260.0Z" fill="#f3f8fc"/>
<path d="M1293.3 340.7L1300.7 342.7L1310.0 355.0L1318.3 363.3L1330.0 365.0L1341.7 363.3L1344.0 369.3L1336.7 374.0L1328.3 378.3L1319.3 380.0L1312.7 371.7L1304.0 357.3L1296.0 347.3Z" fill="#f3f8fc"/>
<path d="M573.3 233.3L586.7 230.0L600.0 226.7L611.7 230.0L608.3 235.0L593.3 236.7L583.3 238.3Z" fill="#e4f3f8"/>
<path d="M588.3 245.0L595.0 241.7L600.0 246.7L598.3 260.0L591.7 266.7L583.3 268.3L586.7 256.7Z" fill="#e4f3f8"/>
<path d="M605.0 240.0L616.7 240.0L625.0 248.3L621.7 256.7L613.3 251.7L607.3 258.3L605.0 250.0Z" fill="#e4f3f8"/>
<path d="M605.0 266.7L611.7 266.7L623.3 263.3L630.0 258.3L626.7 263.3L615.0 269.3Z" fill="#e4f3f8"/>
<path d="M1213.3 536.7L1219.3 531.7L1226.7 534.3L1227.3 544.0L1220.7 552.3L1213.3 549.3Z" fill="#e4f3f8"/>
<path d="M1197.7 563.3L1199.3 564.0L1201.3 580.0L1206.0 591.7L1204.7 592.3L1199.3 580.7Z" fill="#e4f3f8"/>
<path d="M1223.7 595.0L1225.3 595.7L1226.7 613.3L1229.3 625.0L1228.0 625.3L1224.7 613.3Z" fill="#e4f3f8"/>
<path d="M503.4 120.3L515.3 117.8L534.0 116.6L535.7 119.5L523.8 122.0L510.2 124.6Z" fill="#e4f3f8"/>
<path d="M510.2 146.7L520.4 145.0L534.0 145.9L527.2 149.3L515.3 150.1Z" fill="#e4f3f8"/>
<path d="M551.0 193.5L557.8 190.1L566.3 191.8L564.6 205.4L559.5 215.6L552.7 213.9L554.4 203.7Z" fill="#e4f3f8"/>
<path d="M551.9 173.9L559.5 166.3L565.5 167.1L561.2 173.1L554.4 177.3Z" fill="#e4f3f8"/>
</g>
<path d="M1573.8 19.2C1580.5 21.2 1599.3 26.3 1614.4 31.5C1629.5 36.7 1647.2 43.3 1664.3 50.4C1681.4 57.5 1700.5 65.7 1717.0 73.9C1733.5 82.2 1748.5 90.9 1763.1 99.7C1777.8 108.6 1791.3 117.8 1804.9 127.1C1818.4 136.4 1831.6 146.0 1844.4 155.7C1857.1 165.5 1869.6 175.4 1881.4 185.4C1893.1 195.5 1904.4 205.7 1914.8 215.9C1925.2 226.2 1934.5 236.6 1943.5 247.1C1952.6 257.5 1961.5 268.1 1969.4 278.6C1977.2 289.2 1984.3 299.8 1990.8 310.4C1997.3 321.0 2003.2 331.7 2008.4 342.3C2013.5 352.9 2017.8 363.6 2021.6 374.2C2025.3 384.8 2028.0 395.5 2030.9 406.1C2033.8 416.7 2036.6 427.4 2038.8 438.0C2041.1 448.6 2042.9 459.3 2044.3 469.9C2045.8 480.5 2046.8 491.2 2047.6 501.8C2048.4 512.4 2049.0 523.1 2049.0 533.7C2049.0 544.3 2048.4 555.0 2047.6 565.6C2046.8 576.2 2045.8 586.9 2044.3 597.5C2042.9 608.1 2041.1 618.8 2038.8 629.4C2036.6 640.0 2033.8 650.7 2030.9 661.3C2028.0 671.9 2025.3 682.6 2021.6 693.2C2017.8 703.8 2013.5 714.5 2008.4 725.1C2003.2 735.7 1997.3 746.4 1990.8 757.0C1984.3 767.6 1977.2 778.2 1969.4 788.8C1961.5 799.3 1952.6 809.9 1943.5 820.3C1934.5 830.8 1925.2 841.2 1914.8 851.5C1904.4 861.7 1893.1 871.9 1881.4 882.0C1869.6 892.0 1857.1 901.9 1844.4 911.7C1831.6 921.4 1818.4 931.0 1804.9 940.3C1791.3 949.6 1777.8 958.8 1763.1 967.7C1748.5 976.5 1733.5 985.2 1717.0 993.5C1700.5 1001.7 1681.4 1009.9 1664.3 1017.0C1647.2 1024.1 1629.5 1030.7 1614.4 1035.9C1599.3 1041.1 1580.5 1046.2 1573.8 1048.2L492.4 1048.2C485.7 1046.2 466.9 1041.1 451.8 1035.9C436.7 1030.7 419.0 1024.1 401.9 1017.0C384.8 1009.9 365.7 1001.7 349.2 993.5C332.7 985.2 317.7 976.5 303.1 967.7C288.4 958.8 274.9 949.6 261.3 940.3C247.8 931.0 234.6 921.4 221.8 911.7C209.1 901.9 196.6 892.0 184.8 882.0C173.1 871.9 161.8 861.7 151.4 851.5C141.0 841.2 131.7 830.8 122.7 820.3C113.6 809.9 104.7 799.3 96.8 788.8C89.0 778.2 81.9 767.6 75.4 757.0C68.9 746.4 63.0 735.7 57.8 725.1C52.7 714.5 48.4 703.8 44.6 693.2C40.9 682.6 38.2 671.9 35.3 661.3C32.4 650.7 29.6 640.0 27.4 629.4C25.1 618.8 23.3 608.1 21.9 597.5C20.4 586.9 19.4 576.2 18.6 565.6C17.8 555.0 17.2 544.3 17.2 533.7C17.2 523.1 17.8 512.4 18.6 501.8C19.4 491.2 20.4 480.5 21.9 469.9C23.3 459.3 25.1 448.6 27.4 438.0C29.6 427.4 32.4 416.7 35.3 406.1C38.2 395.5 40.9 384.8 44.6 374.2C48.4 363.6 52.7 352.9 57.8 342.3C63.0 331.7 68.9 321.0 75.4 310.4C81.9 299.8 89.0 289.2 96.8 278.6C104.7 268.1 113.6 257.5 122.7 247.1C131.7 236.6 141.0 226.2 151.4 215.9C161.8 205.7 173.1 195.5 184.8 185.4C196.6 175.4 209.1 165.5 221.8 155.7C234.6 146.0 247.8 136.4 261.3 127.1C274.9 117.8 288.4 108.6 303.1 99.7C317.7 90.9 332.7 82.2 349.2 73.9C365.7 65.7 384.8 57.5 401.9 50.4C419.0 43.3 436.7 36.7 451.8 31.5C466.9 26.3 485.7 21.2 492.4 19.2Z" fill="none" stroke="#5d91af" stroke-width="1.5"/>
<line x1="985.0" y1="207.5" x2="1043.0" y2="195.0" stroke="#2c2e30" stroke-width="1.4"/>
<line x1="985.0" y1="231.5" x2="1031.0" y2="220.0" stroke="#2c2e30" stroke-width="1.4"/>
<line x1="984.0" y1="257.5" x2="1025.0" y2="249.5" stroke="#2c2e30" stroke-width="1.4"/>
<line x1="1100.2" y1="220.5" x2="1136.5" y2="238.6" stroke="#2c2e30" stroke-width="1.4"/>
<line x1="1091.1" y1="237.5" x2="1141.0" y2="259.0" stroke="#2c2e30" stroke-width="1.4"/>
<text x="491.7" y="145.7" font-size="19.6" font-weight="bold" fill="#222326" text-anchor="start" textLength="73.3" lengthAdjust="spacingAndGlyphs" xml:space="preserve">CANADA</text>
<text x="490.0" y="275.0" font-size="19.6" font-weight="bold" fill="#222326" text-anchor="start" textLength="35.0" lengthAdjust="spacingAndGlyphs" xml:space="preserve">USA</text>
<text x="437.3" y="378.3" font-size="19.6" font-weight="bold" fill="#222326" text-anchor="start" textLength="70.0" lengthAdjust="spacingAndGlyphs" xml:space="preserve">MEXICO</text>
<text x="714.3" y="595.7" font-size="19.6" font-weight="bold" fill="#222326" text-anchor="start" textLength="62.4" lengthAdjust="spacingAndGlyphs" xml:space="preserve">BRAZIL</text>
<text x="556.0" y="716.0" font-size="19.6" font-weight="bold" fill="#222326" text-anchor="start" textLength="50.7" lengthAdjust="spacingAndGlyphs" xml:space="preserve">CHILE</text>
<text x="931.0" y="99.2" font-size="19.6" font-weight="bold" fill="#222326" text-anchor="start" textLength="76.0" lengthAdjust="spacingAndGlyphs" xml:space="preserve">ICELAND</text>
<text x="1021.3" y="99.2" font-size="19.6" font-weight="bold" fill="#222326" text-anchor="start" textLength="76.6" lengthAdjust="spacingAndGlyphs" xml:space="preserve">NORWAY</text>
<text x="1113.8" y="99.2" font-size="19.6" font-weight="bold" fill="#222326" text-anchor="start" textLength="76.0" lengthAdjust="spacingAndGlyphs" xml:space="preserve">SWEDEN</text>
<text x="825.0" y="180.7" font-size="19.6" font-weight="bold" fill="#222326" text-anchor="start" textLength="160.5" lengthAdjust="spacingAndGlyphs" xml:space="preserve">UNITED KINGDOM</text>
<text x="807.5" y="213.6" font-size="19.6" font-weight="bold" fill="#222326" text-anchor="start" textLength="176.9" lengthAdjust="spacingAndGlyphs" xml:space="preserve">THE  NETHERLANDS</text>
<text x="906.1" y="238.5" font-size="19.6" font-weight="bold" fill="#222326" text-anchor="start" textLength="78.3" lengthAdjust="spacingAndGlyphs" xml:space="preserve">BELGIUM</text>
<text x="913.6" y="270.3" font-size="19.6" font-weight="bold" fill="#222326" text-anchor="start" textLength="69.6" lengthAdjust="spacingAndGlyphs" xml:space="preserve">FRANCE</text>
<text x="940.7" y="303.3" font-size="19.6" font-weight="bold" fill="#222326" text-anchor="start" textLength="51.3" lengthAdjust="spacingAndGlyphs" xml:space="preserve">SPAIN</text>
<text x="1113.3" y="169.5" font-size="19.6" font-weight="bold" fill="#222326" text-anchor="start" textLength="90.1" lengthAdjust="spacingAndGlyphs" xml:space="preserve">DENMARK</text>
<text x="1159.1" y="206.4" font-size="19.6" font-weight="bold" fill="#222326" text-anchor="start" textLength="73.7" lengthAdjust="spacingAndGlyphs" xml:space="preserve">POLAND</text>
<text x="1136.5" y="239.8" font-size="19.6" font-weight="bold" fill="#222326" text-anchor="start" textLength="87.3" lengthAdjust="spacingAndGlyphs" xml:space="preserve">GERMANY</text>
<text x="1140.5" y="265.8" font-size="19.6" font-weight="bold" fill="#222326" text-anchor="start" textLength="128.6" lengthAdjust="spacingAndGlyphs" xml:space="preserve">SWITZERLAND</text>
<text x="1095.0" y="314.5" font-size="19.6" font-weight="bold" fill="#222326" text-anchor="start" textLength="46.8" lengthAdjust="spacingAndGlyphs" xml:space="preserve">ITALY</text>
<text x="1539.3" y="301.7" font-size="19.6" font-weight="bold" fill="#222326" text-anchor="start" textLength="56.7" lengthAdjust="spacingAndGlyphs" xml:space="preserve">CHINA</text>
<text x="1444.0" y="385.0" font-size="19.6" font-weight="bold" fill="#222326" text-anchor="start" textLength="49.3" lengthAdjust="spacingAndGlyphs" xml:space="preserve">INDIA</text>
<text x="1716.8" y="685.5" font-size="19.6" font-weight="bold" fill="#222326" text-anchor="start" textLength="100.8" lengthAdjust="spacingAndGlyphs" xml:space="preserve">AUSTRALIA</text>
<text x="1886.4" y="737.6" font-size="19.6" font-weight="bold" fill="#222326" text-anchor="start" textLength="40.9" lengthAdjust="spacingAndGlyphs" xml:space="preserve">NEW</text>
<text x="1865.7" y="756.6" font-size="19.6" font-weight="bold" fill="#222326" text-anchor="start" textLength="83.1" lengthAdjust="spacingAndGlyphs" xml:space="preserve">ZEALAND</text>
<circle cx="526.0" cy="171.7" r="17.6" fill="#2c2e30" stroke="#fff" stroke-width="1.2"/>
<text x="526.0" y="180.3" font-size="24.6" font-weight="bold" fill="#fff" text-anchor="middle">8</text>
<circle cx="507.0" cy="301.0" r="17.8" fill="#2c2e30" stroke="#fff" stroke-width="1.2"/>
<text x="507.0" y="309.7" font-size="24.9" font-weight="bold" fill="#fff" text-anchor="middle" textLength="25.8" lengthAdjust="spacingAndGlyphs">11</text>
<circle cx="478.3" cy="405.0" r="16.8" fill="#2c2e30" stroke="#fff" stroke-width="1.2"/>
<text x="478.3" y="413.2" font-size="23.5" font-weight="bold" fill="#fff" text-anchor="middle">1</text>
<circle cx="742.3" cy="624.3" r="17.7" fill="#2c2e30" stroke="#fff" stroke-width="1.2"/>
<text x="742.3" y="633.0" font-size="24.8" font-weight="bold" fill="#fff" text-anchor="middle">1</text>
<circle cx="640.7" cy="706.7" r="17.7" fill="#2c2e30" stroke="#fff" stroke-width="1.2"/>
<text x="640.7" y="715.4" font-size="24.8" font-weight="bold" fill="#fff" text-anchor="middle">3</text>
<circle cx="969.2" cy="122.4" r="16.3" fill="#2c2e30" stroke="#fff" stroke-width="1.2"/>
<text x="969.2" y="130.4" font-size="22.8" font-weight="bold" fill="#fff" text-anchor="middle">1</text>
<circle cx="1060.0" cy="122.5" r="16.4" fill="#2c2e30" stroke="#fff" stroke-width="1.2"/>
<text x="1060.0" y="130.5" font-size="23.0" font-weight="bold" fill="#fff" text-anchor="middle">3</text>
<circle cx="1115.6" cy="122.5" r="16.4" fill="#2c2e30" stroke="#fff" stroke-width="1.2"/>
<text x="1115.6" y="130.5" font-size="23.0" font-weight="bold" fill="#fff" text-anchor="middle">2</text>
<circle cx="1088.2" cy="171.7" r="16.4" fill="#2c2e30" stroke="#fff" stroke-width="1.2"/>
<text x="1088.2" y="179.7" font-size="23.0" font-weight="bold" fill="#fff" text-anchor="middle">1</text>
<circle cx="1012.9" cy="173.3" r="16.4" fill="#2c2e30" stroke="#fff" stroke-width="1.2"/>
<text x="1012.9" y="181.3" font-size="23.0" font-weight="bold" fill="#fff" text-anchor="middle" textLength="23.8" lengthAdjust="spacingAndGlyphs">10</text>
<circle cx="1056.4" cy="184.9" r="16.4" fill="#2c2e30" stroke="#fff" stroke-width="1.2"/>
<text x="1056.4" y="192.9" font-size="23.0" font-weight="bold" fill="#fff" text-anchor="middle">2</text>
<circle cx="1138.7" cy="198.9" r="16.4" fill="#2c2e30" stroke="#fff" stroke-width="1.2"/>
<text x="1138.7" y="206.9" font-size="23.0" font-weight="bold" fill="#fff" text-anchor="middle">1</text>
<circle cx="1088.2" cy="207.6" r="16.4" fill="#2c2e30" stroke="#fff" stroke-width="1.2"/>
<text x="1088.2" y="215.6" font-size="23.0" font-weight="bold" fill="#fff" text-anchor="middle" textLength="23.8" lengthAdjust="spacingAndGlyphs">10</text>
<circle cx="1046.4" cy="215.9" r="16.4" fill="#2c2e30" stroke="#fff" stroke-width="1.2"/>
<text x="1046.4" y="223.9" font-size="23.0" font-weight="bold" fill="#fff" text-anchor="middle">1</text>
<circle cx="1076.4" cy="237.5" r="16.4" fill="#2c2e30" stroke="#fff" stroke-width="1.2"/>
<text x="1076.4" y="245.5" font-size="23.0" font-weight="bold" fill="#fff" text-anchor="middle">1</text>
<circle cx="1039.4" cy="247.7" r="16.4" fill="#2c2e30" stroke="#fff" stroke-width="1.2"/>
<text x="1039.4" y="255.7" font-size="23.0" font-weight="bold" fill="#fff" text-anchor="middle">4</text>
<circle cx="1014.0" cy="284.0" r="16.4" fill="#2c2e30" stroke="#fff" stroke-width="1.2"/>
<text x="1014.0" y="292.0" font-size="23.0" font-weight="bold" fill="#fff" text-anchor="middle">1</text>
<circle cx="1121.7" cy="281.2" r="16.4" fill="#2c2e30" stroke="#fff" stroke-width="1.2"/>
<text x="1121.7" y="289.2" font-size="23.0" font-weight="bold" fill="#fff" text-anchor="middle">2</text>
<circle cx="1568.3" cy="326.0" r="17.5" fill="#2c2e30" stroke="#fff" stroke-width="1.2"/>
<text x="1568.3" y="334.6" font-size="24.5" font-weight="bold" fill="#fff" text-anchor="middle">1</text>
<circle cx="1467.7" cy="411.0" r="17.5" fill="#2c2e30" stroke="#fff" stroke-width="1.2"/>
<text x="1467.7" y="419.6" font-size="24.5" font-weight="bold" fill="#fff" text-anchor="middle">3</text>
<circle cx="1766.7" cy="717.6" r="17.8" fill="#2c2e30" stroke="#fff" stroke-width="1.2"/>
<text x="1766.7" y="726.3" font-size="24.9" font-weight="bold" fill="#fff" text-anchor="middle">5</text>
<circle cx="1904.4" cy="787.0" r="17.7" fill="#2c2e30" stroke="#fff" stroke-width="1.2"/>
<text x="1904.4" y="795.7" font-size="24.8" font-weight="bold" fill="#fff" text-anchor="middle">3</text>
<circle cx="1812" cy="1014.7" r="17.3" fill="#2c2e30"/>
<text x="1812.0" y="1021.5" font-size="22.0" font-weight="bold" fill="#fff" text-anchor="middle">n</text>
<text x="1844.5" y="1013.7" font-size="27.5" font-weight="normal" fill="#222326" text-anchor="start" textLength="98.8" lengthAdjust="spacingAndGlyphs">Number</text>
<text x="1848.5" y="1039.6" font-size="27.5" font-weight="normal" fill="#222326" text-anchor="start" textLength="129.7" lengthAdjust="spacingAndGlyphs">of persons</text>
<text x="39.8" y="50.5" font-size="47.0" font-weight="normal" fill="#222326" text-anchor="start" textLength="255.6" lengthAdjust="spacingAndGlyphs">(a) Countries:</text>
<rect x="141.9" y="1818.2" width="1726.9" height="4.5" fill="#d5d7da"/>
<rect x="141.9" y="1784.7" width="1726.9" height="1.7" fill="#e0e2e5"/>
<rect x="141.9" y="1749.8" width="1726.9" height="1.7" fill="#e0e2e5"/>
<rect x="141.9" y="1716.6" width="1726.9" height="1.7" fill="#e0e2e5"/>
<rect x="141.9" y="1680.2" width="1726.9" height="1.7" fill="#e0e2e5"/>
<rect x="141.9" y="1642.3" width="1726.9" height="4.5" fill="#d5d7da"/>
<rect x="141.9" y="1608.7" width="1726.9" height="1.7" fill="#e0e2e5"/>
<rect x="141.9" y="1573.2" width="1726.9" height="1.7" fill="#e0e2e5"/>
<rect x="141.9" y="1539.2" width="1726.9" height="1.7" fill="#e0e2e5"/>
<rect x="141.9" y="1504.4" width="1726.9" height="1.7" fill="#e0e2e5"/>
<rect x="141.9" y="1468.2" width="1726.9" height="4.5" fill="#d5d7da"/>
<rect x="141.9" y="1433.2" width="1726.9" height="1.7" fill="#e0e2e5"/>
<rect x="141.9" y="1397.7" width="1726.9" height="1.7" fill="#e0e2e5"/>
<rect x="141.9" y="1359.9" width="1726.9" height="1.7" fill="#e0e2e5"/>
<rect x="141.9" y="1323.2" width="1726.9" height="1.7" fill="#e0e2e5"/>
<rect x="141.9" y="1289.2" width="1726.9" height="4.5" fill="#d5d7da"/>
<rect x="141.9" y="1254.2" width="1726.9" height="1.7" fill="#e0e2e5"/>
<rect x="141.9" y="1219.0" width="1726.9" height="1.7" fill="#e0e2e5"/>
<rect x="141.9" y="1182.6" width="1726.9" height="1.7" fill="#e0e2e5"/>
<rect x="170.0" y="1184.6" width="62.8" height="635.7" fill="#55c2bf"/>
<rect x="263.0" y="1257.3" width="64.3" height="563.0" fill="#aedddc"/>
<rect x="357.3" y="1536.0" width="61.0" height="284.3" fill="#55c2bf"/>
<rect x="450.3" y="1612.3" width="59.7" height="208.0" fill="#aedddc"/>
<rect x="543.3" y="1643.7" width="59.4" height="176.6" fill="#55c2bf"/>
<rect x="636.0" y="1751.3" width="59.7" height="69.0" fill="#aedddc"/>
<rect x="729.0" y="1781.7" width="59.7" height="38.6" fill="#55c2bf"/>
<rect x="930.0" y="1469.3" width="61.0" height="351.0" fill="#f0686b"/>
<rect x="1024.3" y="1715.0" width="61.4" height="105.3" fill="#f2978f"/>
<rect x="1119.0" y="1786.3" width="62.7" height="34.0" fill="#f0686b"/>
<rect x="1213.7" y="1786.3" width="62.6" height="34.0" fill="#f2978f"/>
<rect x="1445.8" y="1572.4" width="61.2" height="247.9" fill="#767d8f"/>
<rect x="1540.5" y="1750.0" width="61.1" height="70.3" fill="#999cab"/>
<rect x="1633.0" y="1750.0" width="61.3" height="70.3" fill="#767d8f"/>
<rect x="1724.7" y="1786.2" width="62.7" height="34.1" fill="#999cab"/>
<rect x="170.0" y="1820.3" width="618.7" height="17.3" fill="#d6d8db"/>
<rect x="930.0" y="1820.3" width="347.7" height="17.3" fill="#d6d8db"/>
<rect x="1445.8" y="1820.3" width="341.6" height="17.3" fill="#d6d8db"/>
<text x="171.0" y="1166.0" font-size="30.5" font-weight="normal" fill="#222326" text-anchor="start" textLength="188.3" lengthAdjust="spacingAndGlyphs">Oceanography</text>
<text x="257.3" y="1238.3" font-size="30.5" font-weight="normal" fill="#222326" text-anchor="start" textLength="160.0" lengthAdjust="spacingAndGlyphs">Geosciences</text>
<text x="353.3" y="1509.3" font-size="30.5" font-weight="normal" fill="#222326" text-anchor="start" textLength="106.0" lengthAdjust="spacingAndGlyphs">Geology</text>
<text x="450.0" y="1570.7" font-size="30.5" font-weight="normal" fill="#222326" text-anchor="start" textLength="157.3" lengthAdjust="spacingAndGlyphs">Climatology</text>
<text x="539.3" y="1619.3" font-size="30.5" font-weight="normal" fill="#222326" text-anchor="start" textLength="134.0" lengthAdjust="spacingAndGlyphs">Hydrology</text>
<text x="636.8" y="1719.3" font-size="30.5" font-weight="normal" fill="#222326" text-anchor="start" textLength="178.6" lengthAdjust="spacingAndGlyphs">Geochemistry</text>
<text x="726.0" y="1759.5" font-size="30.5" font-weight="normal" fill="#222326" text-anchor="start" textLength="138.0" lengthAdjust="spacingAndGlyphs">Glaciology</text>
<text x="928.3" y="1446.0" font-size="30.5" font-weight="normal" fill="#222326" text-anchor="start" textLength="102.4" lengthAdjust="spacingAndGlyphs">Ecology</text>
<text x="1022.7" y="1691.7" font-size="30.5" font-weight="normal" fill="#222326" text-anchor="start" textLength="193.3" lengthAdjust="spacingAndGlyphs">Marine biology</text>
<text x="1117.5" y="1731.7" font-size="30.5" font-weight="normal" fill="#222326" text-anchor="start" textLength="173.5" lengthAdjust="spacingAndGlyphs">Paleontology</text>
<text x="1208.3" y="1771.7" font-size="30.5" font-weight="normal" fill="#222326" text-anchor="start" textLength="98.0" lengthAdjust="spacingAndGlyphs">Biology</text>
<text x="1442.3" y="1546.7" font-size="30.5" font-weight="normal" fill="#222326" text-anchor="start" textLength="141.0" lengthAdjust="spacingAndGlyphs">Geography</text>
<text x="1540.5" y="1691.2" font-size="30.5" font-weight="normal" fill="#222326" text-anchor="start" textLength="195.9" lengthAdjust="spacingAndGlyphs">Social sciences</text>
<text x="1629.3" y="1730.9" font-size="30.5" font-weight="normal" fill="#222326" text-anchor="start" textLength="223.9" lengthAdjust="spacingAndGlyphs">Civil engineering</text>
<text x="1722.7" y="1771.8" font-size="30.5" font-weight="normal" fill="#222326" text-anchor="start" textLength="95.4" lengthAdjust="spacingAndGlyphs">Physics</text>
<text x="170.9" y="1878.5" font-size="60.0" font-weight="bold" fill="#55c2bf" text-anchor="start" textLength="62.3" lengthAdjust="spacingAndGlyphs">56</text>
<text x="240.6" y="1878.5" font-size="37.0" font-weight="bold" fill="#55c2bf" text-anchor="start" textLength="188.2" lengthAdjust="spacingAndGlyphs">Earth Science</text>
<text x="933.3" y="1879.5" font-size="60.0" font-weight="bold" fill="#f0686b" text-anchor="start" textLength="61.7" lengthAdjust="spacingAndGlyphs">15</text>
<text x="1006.0" y="1879.5" font-size="37.0" font-weight="bold" fill="#f0686b" text-anchor="start" textLength="105.7" lengthAdjust="spacingAndGlyphs">Biology</text>
<text x="1442.3" y="1878.9" font-size="60.0" font-weight="bold" fill="#767d8f" text-anchor="start" textLength="61.5" lengthAdjust="spacingAndGlyphs">12</text>
<text x="1513.6" y="1878.9" font-size="37.0" font-weight="bold" fill="#767d8f" text-anchor="start" textLength="79.8" lengthAdjust="spacingAndGlyphs">Other</text>
<text x="1919.4" y="1300.6" font-size="39.0" font-weight="normal" fill="#a9aaad" text-anchor="end" textLength="35.2" lengthAdjust="spacingAndGlyphs">15</text>
<text x="1919.4" y="1470.8" font-size="39.0" font-weight="normal" fill="#a9aaad" text-anchor="end" textLength="35.2" lengthAdjust="spacingAndGlyphs">10</text>
<text x="1919.4" y="1649.5" font-size="39.0" font-weight="normal" fill="#a9aaad" text-anchor="end" textLength="17.6" lengthAdjust="spacingAndGlyphs">5</text>
<text x="1919.4" y="1813.0" font-size="39.0" font-weight="normal" fill="#a9aaad" text-anchor="end" textLength="17.6" lengthAdjust="spacingAndGlyphs">0</text>
<text x="1883.0" y="1201.3" font-size="37.0" font-weight="normal" fill="#a9aaad" text-anchor="start" textLength="130.0" lengthAdjust="spacingAndGlyphs">Number</text>
<text x="1881.0" y="1238.3" font-size="37.0" font-weight="normal" fill="#a9aaad" text-anchor="start" textLength="167.0" lengthAdjust="spacingAndGlyphs">of persons</text>
<text x="1690.4" y="1147.5" font-size="46.5" font-weight="normal" fill="#222326" text-anchor="start" textLength="268.6" lengthAdjust="spacingAndGlyphs">(b) Disciplines:</text>
<circle cx="581.5" cy="2199.7" r="185.4" fill="none" stroke="#d8dadc" stroke-width="25"/>
<path d="M581.50 2013.70A186.0 186.0 0 1 1 413.62 2279.78" fill="none" stroke="#2c2e30" stroke-width="6.8" stroke-linecap="round"/>
<path d="M581.50 2045.60A154.1 154.1 0 0 1 728.71 2245.27L661.74 2224.54A84.0 84.0 0 0 0 581.50 2115.70Z" fill="#f0686b"/>
<path d="M728.71 2245.27A154.1 154.1 0 1 1 523.77 2056.82L550.03 2121.82A84.0 84.0 0 1 0 661.74 2224.54Z" fill="#55c2bf"/>
<path d="M523.77 2056.82A154.1 154.1 0 0 1 581.50 2045.60L581.50 2115.70A84.0 84.0 0 0 0 550.03 2121.82Z" fill="#7a8198"/>
<text x="561.0" y="2090.4" font-size="25.5" font-weight="bold" fill="#fff" text-anchor="middle">2</text>
<text x="686.4" y="2133.9" font-size="25.5" font-weight="bold" fill="#fff" text-anchor="middle">12</text>
<text x="545.7" y="2319.2" font-size="25.5" font-weight="bold" fill="#fff" text-anchor="middle">26</text>
<text x="587.5" y="2213.0" font-size="41.0" font-weight="normal" fill="#222326" text-anchor="middle" textLength="44.5" lengthAdjust="spacingAndGlyphs">40</text>
<text x="506.0" y="2441.5" font-size="40.0" font-weight="normal" fill="#222326" text-anchor="start" textLength="179.0" lengthAdjust="spacingAndGlyphs" xml:space="preserve">8 h 20 min</text>
<circle cx="1031.5" cy="2199.7" r="185.4" fill="none" stroke="#d8dadc" stroke-width="25"/>
<path d="M1031.50 2013.70A186.0 186.0 0 1 1 951.42 2367.58" fill="none" stroke="#2c2e30" stroke-width="6.8" stroke-linecap="round"/>
<path d="M1031.50 2045.60A154.1 154.1 0 0 1 1161.90 2281.82L1102.58 2244.46A84.0 84.0 0 0 0 1031.50 2115.70Z" fill="#f0686b"/>
<path d="M1161.90 2281.82A154.1 154.1 0 1 1 992.14 2050.71L1010.04 2118.49A84.0 84.0 0 1 0 1102.58 2244.46Z" fill="#55c2bf"/>
<path d="M992.14 2050.71A154.1 154.1 0 0 1 1031.50 2045.60L1031.50 2115.70A84.0 84.0 0 0 0 1010.04 2118.49Z" fill="#7a8198"/>
<text x="1017.3" y="2088.5" font-size="25.5" font-weight="bold" fill="#fff" text-anchor="middle">1</text>
<text x="1133.2" y="2138.1" font-size="25.5" font-weight="bold" fill="#fff" text-anchor="middle">10</text>
<text x="998.2" y="2318.7" font-size="25.5" font-weight="bold" fill="#fff" text-anchor="middle">18</text>
<text x="1038.1" y="2213.0" font-size="41.0" font-weight="normal" fill="#222326" text-anchor="middle" textLength="44.5" lengthAdjust="spacingAndGlyphs">29</text>
<text x="951.5" y="2441.5" font-size="40.0" font-weight="normal" fill="#222326" text-anchor="start" textLength="178.2" lengthAdjust="spacingAndGlyphs" xml:space="preserve">7 h 15 min</text>
<circle cx="1470.3" cy="2199.7" r="185.4" fill="none" stroke="#d8dadc" stroke-width="25"/>
<path d="M1470.30 2013.70A186.0 186.0 0 0 1 1470.30 2385.70" fill="none" stroke="#2c2e30" stroke-width="6.8" stroke-linecap="round"/>
<path d="M1470.30 2045.60A154.1 154.1 0 0 1 1590.06 2296.68L1535.58 2252.56A84.0 84.0 0 0 0 1470.30 2115.70Z" fill="#f0686b"/>
<path d="M1590.06 2296.68A154.1 154.1 0 1 1 1380.38 2074.56L1421.28 2131.48A84.0 84.0 0 1 0 1535.58 2252.56Z" fill="#55c2bf"/>
<path d="M1380.38 2074.56A154.1 154.1 0 0 1 1470.30 2045.60L1470.30 2115.70A84.0 84.0 0 0 0 1421.28 2131.48Z" fill="#7a8198"/>
<text x="1438.7" y="2094.2" font-size="25.5" font-weight="bold" fill="#fff" text-anchor="middle">3</text>
<text x="1564.5" y="2132.1" font-size="25.5" font-weight="bold" fill="#fff" text-anchor="middle">13</text>
<text x="1437.4" y="2319.2" font-size="25.5" font-weight="bold" fill="#fff" text-anchor="middle">19</text>
<text x="1473.8" y="2213.0" font-size="41.0" font-weight="normal" fill="#222326" text-anchor="middle" textLength="44.5" lengthAdjust="spacingAndGlyphs">35</text>
<text x="1447.3" y="2441.5" font-size="40.0" font-weight="normal" fill="#222326" text-anchor="start" textLength="47.2" lengthAdjust="spacingAndGlyphs" xml:space="preserve">6 h</text>
<text x="555.5" y="1973.5" font-size="36.0" font-weight="normal" fill="#222326" text-anchor="start" textLength="63.0" lengthAdjust="spacingAndGlyphs">PhD</text>
<text x="975.0" y="1973.5" font-size="36.0" font-weight="normal" fill="#222326" text-anchor="start" textLength="124.0" lengthAdjust="spacingAndGlyphs">Postdoc</text>
<text x="1294.2" y="1973.5" font-size="36.0" font-weight="normal" fill="#222326" text-anchor="start" textLength="366.6" lengthAdjust="spacingAndGlyphs">Early-career academic</text>
<circle cx="1842.8" cy="2282.4" r="102.3" fill="none" stroke="#d8dadc" stroke-width="24"/>
<path d="M1842.80 2180.40A102.0 102.0 0 1 1 1749.62 2240.91" fill="none" stroke="#2c2e30" stroke-width="6.8" stroke-linecap="round"/>
<text x="1731.7" y="2092.4" font-size="37.0" font-weight="normal" fill="#222326" text-anchor="start" textLength="182.7" lengthAdjust="spacingAndGlyphs">Time spent</text>
<text x="1731.7" y="2133.0" font-size="37.0" font-weight="normal" fill="#222326" text-anchor="start" textLength="232.9" lengthAdjust="spacingAndGlyphs">on the review:</text>
<text x="1780.8" y="2299.2" font-size="50.0" font-weight="bold" fill="#2c2e30" text-anchor="start" textLength="18.2" lengthAdjust="spacingAndGlyphs">t</text>
<text x="1810.8" y="2305.5" font-size="59.0" font-weight="normal" fill="#2c2e30" text-anchor="start" textLength="22.4" lengthAdjust="spacingAndGlyphs">/</text>
<text x="1837.5" y="2299.2" font-size="50.0" font-weight="bold" fill="#c5c6c8" text-anchor="start" textLength="81.2" lengthAdjust="spacingAndGlyphs">12h</text>
<text x="40.8" y="1987.8" font-size="46.5" font-weight="normal" fill="#222326" text-anchor="start" textLength="261.0" lengthAdjust="spacingAndGlyphs">(c) Comments</text>
<text x="86.5" y="2037.9" font-size="46.5" font-weight="normal" fill="#222326" text-anchor="start" textLength="220.3" lengthAdjust="spacingAndGlyphs">per person:</text>
<rect x="86.1" y="2085.2" width="55.3" height="47.5" fill="#7a8198"/>
<rect x="86.1" y="2153.0" width="55.3" height="47.5" fill="#f0686b"/>
<rect x="86.1" y="2224.3" width="55.3" height="47.5" fill="#55c2bf"/>
<text x="156.5" y="2103.5" font-size="26.7" font-weight="normal" fill="#222326" text-anchor="start" textLength="104.0" lengthAdjust="spacingAndGlyphs">Unfit for</text>
<text x="159.7" y="2130.5" font-size="26.7" font-weight="normal" fill="#222326" text-anchor="start" textLength="140.8" lengthAdjust="spacingAndGlyphs">submission</text>
<text x="154.3" y="2185.4" font-size="26.7" font-weight="normal" fill="#222326" text-anchor="start" textLength="150.6" lengthAdjust="spacingAndGlyphs">Substantive</text>
<text x="156.9" y="2257.1" font-size="26.7" font-weight="normal" fill="#222326" text-anchor="start" textLength="108.9" lengthAdjust="spacingAndGlyphs">Editorial</text>
</svg></body></html>
